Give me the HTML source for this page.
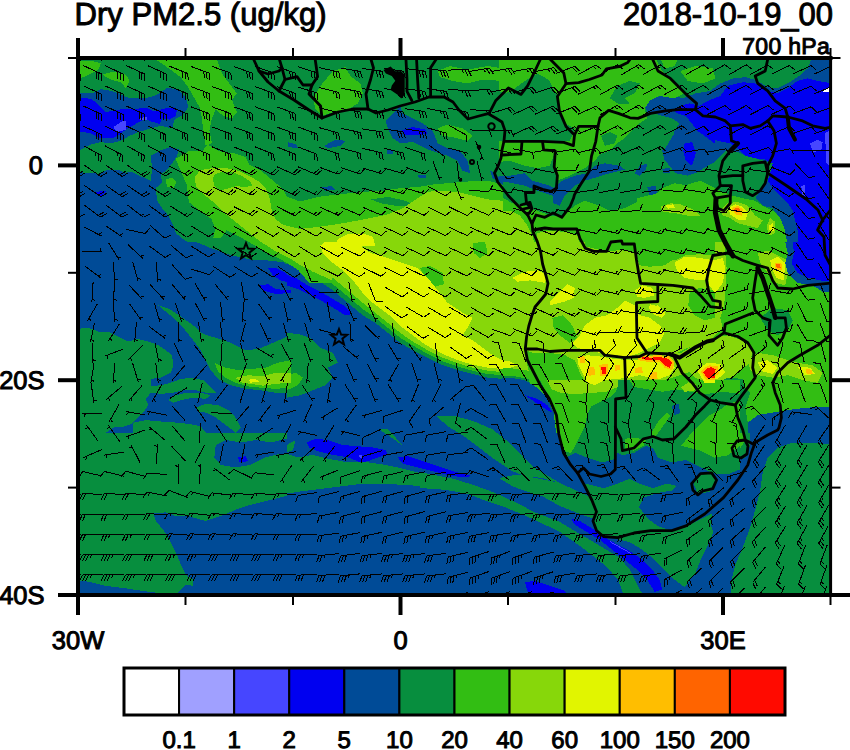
<!DOCTYPE html>
<html lang="en"><head><meta charset="utf-8"><title>Dry PM2.5 (ug/kg) 700 hPa 2018-10-19_00</title>
<style>html,body{margin:0;padding:0;background:#fff;}svg{display:block;}</style></head>
<body>
<svg width="850" height="750" viewBox="0 0 850 750">
<defs><clipPath id="mapclip"><rect x="78" y="58" width="752.5" height="537"/></clipPath></defs>
<rect width="850" height="750" fill="#fff"/>
<g clip-path="url(#mapclip)" shape-rendering="crispEdges">
<rect x="78" y="58" width="752.5" height="537" fill="#078e3e"/>
<polygon fill="#004b97" points="76.0,93.4 92.2,93.4 100.9,89.2 110.9,90.9 118.4,93.4 128.4,97.9 140.9,98.4 150.8,97.2 159.6,93.4 167.0,87.9 177.0,89.2 185.8,97.2 188.2,107.1 183.3,114.6 174.5,119.6 172.0,128.3 160.8,125.8 150.8,128.3 138.4,132.1 129.6,135.8 120.9,140.8 110.9,143.3 100.9,142.1 91.0,144.6 76.0,152.0"/>
<polygon fill="#004b97" points="76.0,172.0 98.4,173.7 108.4,169.5 118.4,169.5 124.6,172.7 132.1,172.0 139.6,175.7 150.8,180.7 152.1,168.2 150.8,155.8 159.6,150.8 170.8,147.0 178.8,149.5 177.0,155.8 172.0,163.3 167.0,169.5 160.8,174.5 162.1,182.0 155.8,188.2 157.1,200.7 162.1,208.2 168.3,215.6 173.3,225.6 175.8,233.1 183.3,239.3 193.2,245.6 76.0,245.6"/>
<polygon fill="#004b97" points="385.3,120.9 392.8,113.4 400.2,105.9 402.7,113.4 412.7,118.4 422.7,123.3 432.7,130.8 437.7,143.3 447.6,148.3 460.1,150.8 467.6,160.8 470.1,173.2 462.6,170.7 457.6,160.8 447.6,155.8 435.2,152.0 425.2,148.3 412.7,142.1 400.2,143.3 392.8,138.3 387.8,128.3"/>
<polygon fill="#004b97" points="324.2,145.8 335.4,139.6 345.4,140.8 340.4,145.8 327.9,148.3"/>
<polygon fill="#004b97" points="288.0,142.1 296.7,144.6 298.0,148.3 288.0,147.0"/>
<polygon fill="#004b97" points="321.7,187.0 331.7,186.2 335.4,189.4 325.4,190.7"/>
<polygon fill="#004b97" points="386.5,150.3 392.3,149.5 392.8,153.8 387.8,154.5"/>
<polygon fill="#004b97" points="417.7,175.2 426.4,174.5 426.4,177.7 419.0,178.2"/>
<polygon fill="#004b97" points="490.0,170.7 495.0,173.2 502.5,180.7 502.5,184.5 492.5,178.2"/>
<polygon fill="#004b97" points="644.7,105.9 654.7,102.1 669.6,100.9 679.6,102.1 689.6,98.9 699.6,102.9 714.5,103.4 714.5,155.8 699.6,165.8 689.6,173.2 679.6,173.2 672.1,165.8 664.6,160.8 662.1,150.8 672.1,143.3 674.6,130.8 679.6,123.3 672.1,118.4 662.1,115.9 654.7,113.4 647.2,110.9"/>
<polygon fill="#004b97" points="498.8,175.7 510.0,175.7 524.9,173.2 532.4,180.7 549.9,185.7 557.4,190.7 552.4,195.7 537.4,190.7 524.9,185.7 512.5,183.2 498.8,180.7"/>
<polygon fill="#004b97" points="553.6,188.2 562.4,180.7 574.8,175.7 587.3,173.2 594.8,165.8 604.8,163.3 619.7,165.8 624.7,169.5 609.8,173.2 597.3,177.0 584.8,180.7 574.8,185.7 564.9,195.7 559.9,205.7 553.6,203.2 552.4,195.7"/>
<polygon fill="#004b97" points="634.7,173.2 639.7,165.8 647.2,163.3 645.9,169.5 639.7,175.7"/>
<polygon fill="#004b97" points="662.1,168.7 669.6,168.2 670.1,172.7 663.4,173.2"/>
<polygon fill="#004b97" points="674.6,168.7 682.1,168.2 682.1,172.7 675.9,173.2"/>
<polygon fill="#004b97" points="647.2,187.0 655.9,185.7 657.1,194.4 649.7,195.7"/>
<polygon fill="#004b97" points="645.5,104.6 653.0,98.4 667.9,93.4 682.9,98.4 695.4,93.4 710.3,90.9 720.3,83.4 732.8,78.4 745.3,77.2 755.2,79.7 767.7,87.2 777.7,88.4 787.7,83.4 797.6,77.2 807.6,68.5 812.6,56.0 832.6,56.0 832.6,245.6 787.7,245.6 785.2,230.6 780.2,218.1 772.7,208.2 762.7,205.7 755.2,198.2 760.2,190.7 767.7,180.7 772.7,163.3 755.2,158.3 745.3,155.8 737.8,152.0 725.3,150.8 720.3,155.8 712.8,163.3 707.8,165.8 697.9,172.0 687.9,175.7 675.4,173.2 665.4,160.8 665.4,148.3 672.9,135.8 682.9,128.3 675.4,118.4 662.9,113.4 648.0,113.4"/>
<polygon fill="#004b97" points="74.8,241.8 195.7,241.8 210.7,248.0 225.7,253.5 240.6,257.5 252.9,260.0 267.8,260.5 283.0,262.2 290.5,266.7 290.5,432.6 74.8,432.6"/>
<polygon fill="#004b97" points="286.8,263.7 288.0,264.2 303.0,270.4 317.9,280.4 332.9,290.4 347.9,302.9 362.8,315.3 375.3,322.8 387.8,332.8 400.2,342.8 412.7,350.3 427.7,357.7 442.7,365.2 457.6,370.2 472.6,374.0 487.6,377.7 502.5,378.9 502.5,432.6 286.8,432.6"/>
<polygon fill="#004b97" points="215.7,445.0 225.7,440.0 240.6,442.5 255.6,440.0 270.6,442.5 290.5,437.5 290.5,453.7 280.5,453.7 265.6,457.4 250.6,464.9 235.6,467.4 220.7,464.9 214.4,457.4"/>
<polygon fill="#004b97" points="153.3,513.6 165.8,512.3 175.8,516.1 188.2,516.1 205.7,521.0 220.7,516.1 235.6,509.8 250.6,504.8 265.6,501.1 280.5,497.3 290.5,494.9 290.5,599.6 178.3,599.6 178.3,592.1 185.8,584.7 193.2,585.9 193.2,579.7 185.8,574.7 180.8,564.7 175.8,552.2 170.8,542.2 163.3,529.8 155.8,521.0"/>
<polygon fill="#004b97" points="74.8,579.7 91.0,582.2 105.9,585.9 125.9,588.4 150.8,592.1 165.8,593.4 165.8,599.6 74.8,599.6"/>
<polygon fill="#004b97" points="286.8,428.8 502.5,428.8 502.5,599.6 286.8,599.6"/>
<polygon fill="#004b97" points="498.8,428.8 714.5,428.8 714.5,599.6 498.8,599.6"/>
<polygon fill="#004b97" points="700.4,428.8 832.6,428.8 832.6,599.6 700.4,599.6"/>
<polygon fill="#0000f0" points="76.0,97.2 91.0,98.9 97.2,103.4 105.9,112.1 118.4,109.6 133.4,108.9 147.1,107.9 153.3,111.4 163.3,108.9 173.3,107.1 177.0,109.6 175.8,115.9 169.5,119.6 162.1,118.4 159.6,123.8 150.8,121.4 144.6,118.9 135.9,123.8 127.1,128.3 120.9,133.8 113.4,137.6 100.9,138.3 91.0,133.3 76.0,130.8"/>
<polygon fill="#0000f0" points="94.7,191.9 107.2,190.7 100.9,196.9"/>
<polygon fill="#0000f0" points="401.5,130.8 412.7,127.1 425.2,129.6 427.7,133.3 417.7,135.3 405.2,134.6"/>
<polygon fill="#0000f0" points="679.6,105.9 689.6,103.4 699.6,105.9 714.5,109.6 714.5,143.3 704.5,135.8 697.1,130.8 692.1,120.9 684.6,115.9 674.6,112.1"/>
<polygon fill="#0000f0" points="684.6,143.3 692.1,142.1 695.8,153.3 692.1,165.8 685.8,160.8 683.3,150.8"/>
<polygon fill="#0000f0" points="687.9,118.4 695.4,108.4 707.8,100.9 720.3,95.9 727.8,85.9 742.8,82.2 755.2,83.4 767.7,90.9 777.7,93.4 787.7,88.4 797.6,80.9 807.6,78.4 817.6,80.9 832.6,83.4 832.6,245.6 797.6,245.6 797.6,230.6 795.1,220.6 792.7,210.7 787.7,203.2 780.2,195.7 772.7,188.2 767.7,180.7 770.2,173.2 772.7,163.3 765.2,159.5 755.2,158.3 745.3,155.8 737.8,148.3 730.3,143.3 717.8,140.8 705.3,135.8 695.4,128.3"/>
<polygon fill="#0000f0" points="268.1,267.9 275.6,267.9 285.5,272.9 290.5,277.9 290.5,282.9 280.5,280.4 273.1,275.4"/>
<polygon fill="#0000f0" points="259.3,285.4 268.1,284.2 275.6,289.1 290.5,290.4 290.5,292.9 275.6,294.1 263.1,290.4"/>
<polygon fill="#0000f0" points="286.8,274.9 295.5,277.9 308.0,285.4 320.4,291.6 332.9,299.1 345.4,306.6 352.9,314.1 345.4,315.3 335.4,309.1 322.9,301.6 310.4,295.4 298.0,289.1 286.8,285.4"/>
<polygon fill="#0000f0" points="238.1,457.4 245.6,456.2 248.1,461.2 239.4,462.4"/>
<polygon fill="#4646ff" points="113.4,127.1 123.4,120.4 125.9,121.4 125.9,129.6 117.2,132.1"/>
<polygon fill="#4646ff" points="139.6,118.4 147.1,116.6 147.1,119.6 140.4,120.4"/>
<polygon fill="#4646ff" points="810.1,143.3 817.6,139.6 822.6,142.1 821.3,150.8 812.6,152.0"/>
<polygon fill="#4646ff" points="825.1,133.3 828.8,130.8 830.6,165.8 826.3,163.3"/>
<polygon fill="#4646ff" points="801.4,185.7 804.6,185.2 805.1,195.7 801.9,195.2"/>
<polygon fill="#ffffff" points="822.6,88.9 828.8,88.4 829.1,92.4 823.1,92.2"/>
<polygon fill="#078e3e" points="74.8,329.1 88.5,327.8 98.4,331.6 108.4,331.6 118.4,336.5 128.4,341.5 138.4,339.0 148.3,341.5 158.3,345.3 165.8,350.3 172.0,355.2 173.3,365.2 170.8,372.7 160.8,377.7 150.8,378.9 150.8,386.4 158.3,387.7 150.8,392.7 145.8,398.9 148.3,405.1 143.3,412.6 138.4,417.6 133.4,422.6 125.9,426.3 113.4,427.6 105.9,432.6 74.8,432.6"/>
<polygon fill="#078e3e" points="158.3,305.4 168.3,308.4 180.8,316.6 193.2,325.3 203.2,334.0 215.7,337.8 230.7,342.8 245.6,350.3 258.1,349.0 273.1,342.8 290.5,335.3 290.5,392.7 275.6,392.7 260.6,390.2 245.6,388.9 230.7,385.2 218.2,378.9 210.7,370.2 205.7,360.2 200.7,350.3 193.2,340.3 183.3,327.8 173.3,317.8"/>
<polygon fill="#078e3e" points="150.8,386.4 160.8,385.2 170.8,382.7 180.8,378.9 193.2,377.7 203.2,380.2 210.7,387.7 215.7,392.7 205.7,392.7 195.7,390.2 183.3,390.2 173.3,392.7 160.8,393.9 150.8,392.7"/>
<polygon fill="#078e3e" points="168.3,400.1 175.8,395.2 185.8,392.7 200.7,392.7 210.7,395.2 205.7,398.9 193.2,397.7 180.8,400.1 173.3,402.6"/>
<polygon fill="#078e3e" points="195.7,407.6 205.7,403.9 218.2,405.1 228.2,410.1 235.6,417.6 240.6,427.6 235.6,432.6 225.7,425.1 215.7,417.6 205.7,412.6 198.2,411.4"/>
<polygon fill="#078e3e" points="133.4,422.6 145.8,420.1 158.3,421.3 175.8,422.6 188.2,423.8 200.7,426.3 205.7,432.6 133.4,432.6"/>
<polygon fill="#078e3e" points="286.8,332.8 298.0,334.0 310.4,337.8 320.4,347.8 332.9,352.8 337.9,362.7 327.9,367.7 332.9,377.7 325.4,385.2 312.9,390.2 300.5,395.2 286.8,397.7"/>
<polygon fill="#078e3e" points="286.8,453.7 298.0,457.4 312.9,454.9 327.9,458.7 347.9,462.4 367.8,462.4 385.3,464.9 397.8,467.4 412.7,471.2 422.7,473.7 422.7,486.1 402.7,484.9 382.8,483.6 362.8,483.6 342.9,486.1 322.9,488.6 303.0,491.1 286.8,493.6"/>
<polygon fill="#078e3e" points="377.8,428.8 387.8,435.0 400.2,443.7 405.2,447.5 397.8,440.0 387.8,428.8"/>
<polygon fill="#078e3e" points="286.8,445.0 295.5,440.0 293.0,450.0 286.8,452.4"/>
<polygon fill="#078e3e" points="609.8,537.3 629.7,532.3 649.7,528.5 674.6,529.3 694.6,522.3 712.0,513.6 710.8,524.8 713.3,532.3 708.3,544.7 700.8,559.7 695.8,572.2 688.3,582.2 684.6,587.1 674.6,579.7 664.6,569.7 654.7,559.7 642.2,549.7 629.7,542.2"/>
<polygon fill="#078e3e" points="762.7,599.6 730.3,599.6 731.5,579.7 735.3,564.7 742.8,547.2 750.2,527.3 755.2,509.8 760.2,489.9 762.7,472.4 767.7,457.4 777.7,447.5 792.7,442.5 812.6,442.5 832.6,445.0 832.6,599.6"/>
<polygon fill="#078e3e" points="658.0,454.9 670.4,450.0 687.9,445.0 700.4,435.0 705.3,428.8 750.2,428.8 750.2,445.0 745.3,457.4 732.8,462.4 717.8,459.9 702.9,464.9 687.9,462.4 672.9,459.9"/>
<polygon fill="#078e3e" points="436,416 455,416 473,421 492,429 506,440 519,453 535,468 548,476 560,483 542,478 525,476 512,471 492.5,458 481,449 465,437 449,427"/>
<polygon fill="#078e3e" points="499,478 512,475.5 525,475 535,478 560,483 575,490 590,497 597,503 597,520 580,514 560,506 542,496 525,491 512,486"/>
<polygon fill="#078e3e" points="420,472 436.5,475.4 453,478.7 469.4,483.7 486,489.4 502,496 519,504 535,512.5 560,522 580,534 607,550 620,558 630,570 640,590 645,598 625,598 618,580 606,566 580,546 560,532 535,520 519,513 502,506 486,501 469.4,494.4 453,491 440,489.4 420,488"/>
<polygon fill="#0000f0" points="306.7,442.5 315.4,438.7 327.9,440.0 342.9,445.0 357.8,446.2 372.8,447.5 385.3,450.0 387.8,454.9 377.8,457.4 367.8,461.2 360.3,462.4 347.9,457.4 332.9,454.9 317.9,451.2 309.2,447.5"/>
<polygon fill="#0000f0" points="397.8,457.4 407.7,456.2 422.7,461.2 437.7,466.2 452.6,471.2 472.6,476.1 462.6,477.4 447.6,474.9 432.7,471.2 417.7,467.4 402.7,463.7"/>
<polygon fill="#0000f0" points="571.1,518.6 579.8,521.0 592.3,528.5 604.8,537.3 617.2,544.7 629.7,551.0 642.2,559.7 652.2,569.7 659.6,579.7 662.1,589.6 654.7,592.1 647.2,579.7 637.2,569.7 624.7,559.7 612.2,549.7 599.8,539.8 587.3,532.3 574.8,524.8"/>
<polygon fill="#0000f0" points="524.9,582.2 534.9,580.9 549.9,585.9 564.9,590.9 572.3,599.6 529.9,599.6"/>
<polygon fill="#4646ff" points="359.3,455.4 362.3,454.9 362.8,457.9 359.8,458.4"/>
<polygon fill="#4646ff" points="609.8,541.0 629.7,552.2 631.0,554.0 611.0,542.7"/>
<polygon fill="#32be13" points="76.0,61.5 91.0,60.5 100.9,63.5 98.4,69.7 91.0,73.5 83.5,77.2 76.0,78.4"/>
<polygon fill="#32be13" points="102.2,74.7 113.4,71.5 125.9,74.7 129.6,80.9 125.9,88.4 120.9,82.2 110.9,79.7"/>
<polygon fill="#32be13" points="150.8,56.0 215.7,56.0 221.9,73.5 229.4,83.4 236.9,93.4 231.9,99.7 236.9,112.1 231.9,118.4 223.2,115.9 215.7,109.6 211.9,118.4 209.4,130.8 211.9,143.3 205.7,145.8 203.2,130.8 202.0,118.4 199.5,107.1 194.5,98.4 188.2,87.2 180.8,77.2 167.0,67.2"/>
<polygon fill="#32be13" points="165.8,179.5 172.0,177.5 176.3,182.0 173.3,188.2 167.0,187.0"/>
<polygon fill="#32be13" points="202.0,151.3 207.6,144.7 218.9,151.3 234.0,153.2 245.3,156.9 249.1,164.5 260.4,170.1 271.6,179.5 282.9,188.9 286.7,196.5 301.8,202.1 331.9,202.1 331.9,283.1 309.3,283.1 298.0,269.9 282.9,260.5 267.9,252.9 254.7,245.4 241.5,237.9 226.5,230.4 220.8,237.9 213.3,237.9 215.2,228.5 211.4,219.1 198.2,209.6 188.8,202.1 186.9,185.2 181.3,172.0 175.6,158.8 188.8,151.3"/>
<polygon fill="#32be13" points="320.4,85.9 332.9,71.0 345.4,67.2 350.4,76.0 360.3,83.4 362.8,93.4 357.8,103.4 347.9,109.6 332.9,112.1 321.7,115.9 315.4,108.4 312.9,98.4"/>
<polygon fill="#32be13" points="437.7,71.0 450.1,66.0 467.6,69.7 487.6,66.0 502.5,68.5 502.5,80.9 482.6,79.7 467.6,83.4 452.6,80.9 440.2,77.2"/>
<polygon fill="#32be13" points="437.7,128.3 447.6,124.6 462.6,128.3 472.6,135.8 467.6,140.8 452.6,137.1 442.7,135.8"/>
<polygon fill="#32be13" points="285.5,203.2 303.0,200.7 317.9,196.9 337.9,194.4 362.8,191.9 382.8,190.7 400.2,188.2 417.7,187.0 432.7,184.5 447.6,183.2 462.6,182.0 477.6,180.7 487.6,180.7 502.5,184.5 502.5,245.6 285.5,245.6"/>
<polygon fill="#32be13" points="498.8,56.0 574.8,56.0 582.3,71.0 574.8,80.9 564.9,83.4 557.4,93.4 553.6,89.7 548.6,79.7 537.4,73.5 524.9,80.9 515.0,88.4 505.0,93.4 498.8,90.9"/>
<polygon fill="#32be13" points="557.4,93.4 564.9,83.4 574.8,80.9 582.3,71.0 574.8,56.0 654.7,56.0 662.1,71.0 674.6,80.9 684.6,93.4 674.6,98.4 659.6,95.9 649.7,100.9 644.7,108.4 647.2,118.4 639.7,123.3 632.2,130.8 624.7,138.3 617.2,143.3 609.8,150.8 599.8,154.5 594.8,160.8 584.8,168.2 569.8,175.7 557.4,180.7 553.6,168.2 557.4,150.8 553.6,155.8 549.9,165.8 537.4,168.2 524.9,165.8 510.0,160.8 498.8,162.0 498.8,140.8 524.9,140.8 569.8,140.8 574.8,128.3 564.9,123.3 559.9,110.9"/>
<polygon fill="#32be13" points="680.3,71.0 695.3,66.0 712.8,68.5 715.3,78.4 702.8,83.4 687.8,80.9"/>
<polygon fill="#32be13" points="659.6,56.0 679.6,56.0 674.6,66.0 664.6,68.5"/>
<polygon fill="#32be13" points="498.8,195.7 512.5,203.2 524.9,205.7 537.4,210.7 549.9,215.6 562.4,215.6 574.8,205.7 584.8,200.7 599.8,205.7 609.8,210.7 624.7,208.2 634.7,203.2 644.7,198.2 654.7,195.7 662.1,188.2 674.6,183.2 689.6,185.7 714.5,190.7 714.5,245.6 498.8,245.6"/>
<polygon fill="#32be13" points="636.8,198.2 653.0,194.4 670.4,189.4 687.9,184.5 700.4,180.7 710.3,185.7 720.3,190.7 732.8,195.7 742.8,198.2 755.2,200.7 762.7,205.7 772.7,210.7 780.2,218.1 785.2,230.6 787.7,245.6 636.8,245.6"/>
<polygon fill="#32be13" points="214.4,362.7 225.7,367.7 238.1,370.2 250.6,369.0 265.6,367.7 278.0,362.7 290.5,360.2 290.5,387.7 275.6,388.9 260.6,387.7 248.1,386.4 235.6,382.7 225.7,377.7 218.2,371.5"/>
<polygon fill="#32be13" points="286.8,241.8 502.5,241.8 502.5,375.2 487.6,374.0 472.6,370.7 457.6,366.5 442.7,361.5 427.7,354.0 412.7,345.3 400.2,337.8 387.8,327.8 375.3,317.8 362.8,309.1 347.9,296.6 332.9,284.2 317.9,274.2 303.0,265.4 288.0,259.2 286.8,258.7"/>
<polygon fill="#32be13" points="286.8,375.2 295.5,372.7 303.0,377.7 298.0,385.2 286.8,390.2"/>
<polygon fill="#32be13" points="584.8,241.8 714.5,241.8 714.5,254.2 679.6,256.7 664.6,266.7 649.7,267.9 639.7,266.7 634.7,253.0 619.7,251.0 607.3,253.0 586.1,248.0"/>
<polygon fill="#32be13" points="705.3,428.8 742.8,428.8 745.3,440.0 737.8,452.4 722.8,454.9 710.3,450.0 702.9,440.0"/>
<polygon fill="#078e3e" points="370.3,199.4 387.8,196.9 405.2,200.7 415.2,205.7 397.8,206.2 382.8,203.7"/>
<polygon fill="#078e3e" points="609.8,98.4 617.2,85.9 629.7,80.9 639.7,83.4 634.7,93.4 624.7,98.4 629.7,103.4 619.7,104.6"/>
<polygon fill="#078e3e" points="601.0,135.8 609.8,132.1 617.2,135.8 614.7,143.3 604.8,145.8"/>
<polygon fill="#87d70a" points="194.5,177.6 200.1,170.1 213.3,167.9 226.5,168.2 239.6,171.1 249.1,175.8 258.5,181.4 266.0,188.9 269.8,198.4 271.6,209.6 275.4,219.1 282.9,224.7 298.0,228.5 313.1,230.4 331.9,228.5 331.9,280.2 313.1,271.8 301.8,266.1 290.5,258.6 275.4,251.1 260.4,241.6 250.9,234.1 241.5,226.6 232.1,219.1 222.7,211.5 213.3,202.1 203.9,194.6 196.4,187.1"/>
<polygon fill="#87d70a" points="285.5,230.6 308.0,228.1 327.9,225.6 350.4,221.9 370.3,218.1 387.8,214.4 402.7,208.2 417.7,198.2 427.7,191.9 437.7,190.7 457.6,191.9 472.6,195.7 487.6,199.4 502.5,200.7 502.5,245.6 285.5,245.6"/>
<polygon fill="#87d70a" points="498.8,211.9 510.0,210.7 520.0,215.6 527.4,225.6 532.4,235.6 534.9,245.6 498.8,245.6"/>
<polygon fill="#87d70a" points="537.4,233.1 549.9,230.6 564.9,231.9 577.3,235.6 579.8,245.6 534.9,245.6"/>
<polygon fill="#87d70a" points="660.4,206.9 670.4,203.2 680.4,204.4 692.9,209.4 700.4,215.6 687.9,215.6 675.4,213.1 662.9,211.9"/>
<polygon fill="#87d70a" points="720.3,210.7 727.8,203.2 737.8,201.9 747.8,205.7 755.2,215.6 762.7,220.6 757.7,228.1 747.8,225.6 737.8,223.1 730.3,218.1 722.8,215.6"/>
<polygon fill="#87d70a" points="766.5,225.6 770.2,218.1 775.2,221.9 775.2,233.1 769.0,235.6"/>
<polygon fill="#87d70a" points="235.6,377.7 248.1,375.2 263.1,376.4 275.6,372.7 290.5,372.7 290.5,382.7 275.6,383.9 263.1,385.7 250.6,383.9 240.6,382.2"/>
<polygon fill="#87d70a" points="286.8,241.8 502.5,241.8 502.5,372.2 487.6,370.7 472.6,367.7 457.6,363.2 442.7,357.7 427.7,350.3 412.7,341.5 400.2,332.8 387.8,322.8 375.3,312.8 362.8,302.9 347.9,290.4 332.9,277.9 317.9,267.9 303.0,259.2 288.0,253.0 286.8,252.5"/>
<polygon fill="#87d70a" points="498.8,241.8 584.8,241.8 586.1,246.7 607.3,251.7 619.7,250.0 634.7,252.0 639.7,265.4 649.7,266.7 664.6,265.4 679.6,255.5 714.5,253.0 714.5,432.6 498.8,432.6"/>
<polygon fill="#87d70a" points="710.3,241.8 727.8,241.8 727.8,355.2 710.3,355.2"/>
<polygon fill="#32be13" points="214.2,174.8 220.8,172.0 232.1,172.0 241.5,175.8 249.1,180.5 252.8,185.2 245.3,187.1 235.9,186.1 226.5,188.9 218.9,190.8 214.2,185.2 212.9,179.5"/>
<polygon fill="#32be13" points="420.2,267.9 430.2,265.9 442.7,272.9 443.9,284.2 435.2,286.7 426.4,280.4"/>
<polygon fill="#32be13" points="472.6,243.0 485.1,241.8 487.6,253.0 480.1,258.0 473.8,253.0"/>
<polygon fill="#32be13" points="639.7,241.8 714.5,241.8 714.5,255.5 699.6,254.2 684.6,255.5 674.6,260.5 662.1,258.0 649.7,253.0"/>
<polygon fill="#32be13" points="689.6,292.9 699.6,287.9 714.5,290.4 714.5,317.8 704.5,320.3 694.6,315.3 688.3,305.4"/>
<polygon fill="#32be13" points="552.4,317.8 562.4,315.3 572.3,325.3 577.3,337.8 569.8,342.8 559.9,335.3 553.6,327.8"/>
<polygon fill="#32be13" points="498.8,365.7 515.0,369.0 528.7,370.7 526.2,360.2 524.9,350.3 532.4,352.8 549.9,352.8 564.9,355.2 574.8,360.2 579.8,372.7 587.3,385.2 599.8,390.2 617.2,390.2 629.7,385.2 644.7,382.7 659.6,381.4 674.6,382.7 684.6,377.7 694.6,372.7 699.6,362.7 704.5,382.7 714.5,385.2 714.5,432.6 498.8,432.6"/>
<polygon fill="#32be13" points="725.3,241.8 832.6,241.8 832.6,432.6 636.8,432.6 636.8,382.7 653.0,382.7 672.9,377.7 687.9,372.7 697.9,362.7 687.9,355.2 677.9,352.8 687.9,347.8 702.9,342.8 712.8,337.8 722.8,327.8 720.3,317.8 724.1,305.4 725.3,292.9 726.6,267.9 725.3,253.0"/>
<polygon fill="#87d70a" points="557.4,392.7 567.3,385.2 579.8,382.7 586.1,390.2 584.8,405.1 583.6,417.6 584.8,432.6 559.9,432.6 558.6,412.6"/>
<polygon fill="#87d70a" points="677.9,355.2 692.9,345.3 712.8,337.8 727.8,335.3 742.8,340.3 752.7,350.3 750.2,362.7 737.8,372.7 722.8,382.7 707.8,382.7 695.4,377.7 685.4,367.7"/>
<polygon fill="#87d70a" points="757.7,253.0 767.7,250.5 777.7,255.5 787.7,260.5 787.7,272.9 785.2,285.4 775.2,282.9 767.7,272.9 760.2,263.0"/>
<polygon fill="#87d70a" points="747.8,360.2 757.7,352.8 772.7,355.2 787.7,360.2 797.6,362.7 812.6,365.2 822.6,372.7 817.6,382.7 802.6,380.2 787.7,375.2 772.7,377.7 757.7,375.2 750.2,370.2"/>
<polygon fill="#078e3e" points="498.8,375.2 515.0,376.4 528.7,378.9 529.9,383.2 515.0,380.2 498.8,379.4"/>
<polygon fill="#078e3e" points="589.8,405.1 599.8,397.7 614.7,392.7 629.7,390.2 644.7,385.2 659.6,386.4 674.6,390.2 689.6,392.7 699.6,397.7 714.5,392.7 714.5,432.6 584.8,432.6"/>
<polygon fill="#078e3e" points="636.8,387.7 653.0,385.2 667.9,387.7 682.9,382.7 697.9,387.7 712.8,390.2 727.8,387.7 742.8,385.2 750.2,392.7 745.3,407.6 747.8,422.6 750.2,432.6 636.8,432.6"/>
<polygon fill="#078e3e" points="760.2,317.8 772.7,307.9 787.7,310.3 792.7,320.3 787.7,330.3 777.7,335.3 767.7,330.3"/>
<polygon fill="#078e3e" points="719.1,381.4 727.8,377.7 742.8,378.9 744.0,387.7 732.8,391.4 721.6,390.2"/>
<polygon fill="#32be13" points="635.9,398.9 647.2,392.7 662.1,393.9 669.6,400.1 659.6,407.6 644.7,406.4"/>
<polygon fill="#004b97" points="672.1,410.1 677.1,405.1 684.6,412.6 687.1,415.1 679.6,417.6"/>
<polygon fill="#004b97" points="498.8,378.9 510.0,377.7 524.9,380.2 537.4,387.7 547.4,397.7 553.6,412.6 556.1,432.6 498.8,432.6"/>
<polygon fill="#32be13" points="702.9,402.6 712.8,395.2 727.8,392.7 737.8,397.7 735.3,410.1 722.8,417.6 707.8,415.1"/>
<polygon fill="#004b97" points="747.8,422.6 757.7,415.1 772.7,412.6 787.7,410.1 807.6,407.6 832.6,406.4 832.6,432.6 747.8,432.6"/>
<polygon fill="#004b97" points="670.4,408.9 675.4,405.1 680.9,407.6 679.2,415.1 672.9,415.6"/>
<polygon fill="#004b97" points="785.2,241.8 787.7,253.0 785.2,263.0 787.7,272.9 797.6,282.9 812.6,285.4 822.6,291.6 832.6,292.9 832.6,241.8"/>
<polygon fill="#0000f0" points="524.9,395.2 537.4,398.9 547.4,405.1 552.4,412.6 547.4,410.1 537.4,403.9"/>
<polygon fill="#0000f0" points="792.7,241.8 793.9,253.0 791.4,263.0 797.6,272.9 807.6,277.9 820.1,280.4 832.6,281.7 832.6,241.8"/>
<polygon fill="#078e3e" points="540.0,384.7 549.4,398.8 556.5,415.3 558.8,434.1 563.5,452.9 570.6,464.7 577.6,472.9 584.7,485.9 591.8,500.0 596.5,511.8 592.9,521.2 596.5,530.6 603.5,536.5 617.6,537.6 634.1,532.9 650.6,530.6 671.8,530.6 685.9,525.9 704.7,514.1 723.5,497.6 740.0,474.1 740.0,380.0 540.0,380.0"/>
<polygon fill="#32be13" points="540.0,380.0 610.6,380.0 617.6,389.4 610.6,396.5 601.2,401.2 591.8,405.9 587.1,415.3 584.7,427.1 580.0,436.5 575.3,445.9 570.6,452.9 563.5,450.6 560.0,434.1 556.5,415.3 550.6,398.8 544.7,389.4"/>
<polygon fill="#32be13" points="629.4,380.0 740.0,380.0 740.0,394.1 723.5,391.8 704.7,394.1 690.6,391.8 676.5,389.4 662.4,391.8 648.2,389.4 634.1,387.1"/>
<polygon fill="#32be13" points="681.2,445.9 690.6,434.1 700.0,424.7 709.4,415.3 718.8,410.6 728.2,403.5 740.0,401.2 740.0,445.9 728.2,455.3 714.1,457.6 700.0,450.6 690.6,448.2"/>
<polygon fill="#32be13" points="650.6,434.1 657.6,422.4 667.1,412.9 670.6,415.3 662.4,427.1 655.3,436.5"/>
<polygon fill="#32be13" points="624.7,438.8 634.1,437.6 645.9,440.0 643.5,445.9 634.1,450.6 624.7,449.4"/>
<polygon fill="#004b97" points="565.9,457.6 575.3,452.9 587.1,457.6 601.2,462.4 612.9,460.0 617.6,452.9 622.4,455.3 634.1,452.9 645.9,445.9 652.9,448.2 657.6,457.6 671.8,462.4 685.9,460.0 695.3,464.7 709.4,471.8 718.8,474.1 728.2,474.1 740.0,469.4 740.0,476.5 723.5,497.6 704.7,514.1 685.9,525.9 671.8,530.6 657.6,525.9 648.2,518.8 638.8,507.1 643.5,497.6 657.6,492.9 671.8,490.6 676.5,485.9 667.1,483.5 652.9,488.2 638.8,483.5 629.4,478.8 617.6,483.5 603.5,488.2 594.1,485.9 584.7,483.5 577.6,472.9 570.6,464.7"/>
<polygon fill="#004b97" points="671.8,405.9 678.8,403.5 680.0,412.9 674.1,415.3"/>
<polygon fill="#87d70a" points="547.1,380.0 617.6,380.0 617.6,387.1 605.9,391.8 591.8,392.9 575.3,394.1 561.2,392.9 551.8,389.4"/>
<polygon fill="#87d70a" points="681.2,387.1 688.2,382.4 696.5,384.7 694.1,390.6 684.7,391.8"/>
<polygon fill="#078e3e" points="692.9,481.2 702.4,472.9 714.1,474.1 716.5,483.5 709.4,491.8 697.6,494.1"/>
<polygon fill="#e1f500" points="337.9,239.3 347.9,234.3 362.8,233.6 372.8,236.8 375.3,245.6 335.4,245.6"/>
<polygon fill="#e1f500" points="665.4,205.7 672.9,204.4 675.4,207.7 667.9,208.7"/>
<polygon fill="#e1f500" points="727.8,208.2 735.3,204.4 742.8,206.9 747.8,213.1 745.3,220.6 737.8,219.4 730.3,214.4"/>
<polygon fill="#e1f500" points="769.0,225.6 772.7,223.1 773.9,230.6 769.7,231.9"/>
<polygon fill="#e1f500" points="248.1,379.7 255.6,378.9 259.3,381.4 250.6,382.7"/>
<polygon fill="#e1f500" points="322.9,253.0 320.4,245.5 325.4,241.8 357.8,241.8 362.8,248.0 370.3,253.0 387.8,258.0 402.7,263.0 417.7,267.9 427.7,277.9 437.7,290.4 447.6,302.9 462.6,312.8 472.6,317.8 467.6,327.8 462.6,335.3 472.6,340.3 482.6,347.8 492.5,355.2 502.5,360.2 502.5,369.0 487.6,367.7 472.6,364.7 457.6,360.2 442.7,354.0 432.7,349.0 422.7,342.8 412.7,335.3 402.7,327.8 392.8,317.8 382.8,310.3 372.8,302.9 362.8,292.9 352.9,280.4 342.9,270.4 332.9,263.0"/>
<polygon fill="#e1f500" points="498.8,360.2 510.0,361.5 517.5,365.2 510.0,367.7 498.8,369.0"/>
<polygon fill="#e1f500" points="512.5,277.9 524.9,271.7 537.4,270.4 547.4,275.4 544.9,282.9 529.9,280.4 517.5,281.7"/>
<polygon fill="#e1f500" points="561.1,290.4 567.3,284.2 574.8,287.9 573.6,297.9 564.9,301.6 549.9,305.4 549.9,301.6"/>
<polygon fill="#e1f500" points="572.3,342.8 579.8,335.3 584.8,325.3 594.8,317.8 607.3,315.3 617.2,307.9 624.7,300.4 634.7,305.4 639.7,315.3 649.7,317.8 659.6,325.3 664.6,332.8 659.6,342.8 649.7,347.8 639.7,352.8 629.7,356.5 614.7,355.2 599.8,352.8 587.3,350.3 577.3,347.8"/>
<polygon fill="#e1f500" points="634.7,290.4 642.2,285.4 652.2,287.9 654.7,295.4 644.7,297.9 637.2,296.6"/>
<polygon fill="#e1f500" points="649.7,304.1 659.6,306.6 665.9,314.1 659.6,315.3 652.2,310.3"/>
<polygon fill="#e1f500" points="577.3,357.7 587.3,355.2 599.8,356.5 614.7,359.0 629.7,360.2 644.7,359.0 659.6,357.7 672.1,360.2 674.6,367.7 669.6,375.2 659.6,378.9 649.7,377.7 639.7,375.2 629.7,377.7 617.2,378.9 604.8,380.2 594.8,385.2 587.3,382.7 582.3,372.7 578.6,365.2"/>
<polygon fill="#e1f500" points="674.6,263.0 684.6,256.7 699.6,258.0 714.5,260.5 714.5,277.9 699.6,280.4 684.6,277.9 677.1,270.4"/>
<polygon fill="#e1f500" points="697.1,370.2 707.0,362.7 714.5,362.7 714.5,382.7 704.5,382.7"/>
<polygon fill="#e1f500" points="709.1,270.4 712.8,260.5 722.8,258.0 725.3,267.9 722.8,282.9 715.3,292.9 709.1,285.4"/>
<polygon fill="#e1f500" points="675.4,261.7 687.9,256.7 700.4,258.0 707.8,265.4 697.9,270.4 685.4,272.9 677.9,269.2"/>
<polygon fill="#e1f500" points="770.2,260.5 777.7,256.7 785.2,263.0 783.9,280.4 776.4,277.9 771.4,267.9"/>
<polygon fill="#e1f500" points="757.7,362.7 767.7,360.2 777.7,367.7 772.7,374.0 762.7,371.5"/>
<polygon fill="#e1f500" points="797.6,366.5 810.1,367.7 815.1,374.0 805.1,375.2"/>
<polygon fill="#e1f500" points="697.9,370.2 707.8,362.7 720.3,364.0 725.3,372.7 717.8,378.9 705.3,380.2"/>
<polygon fill="#e1f500" points="636.8,325.3 648.0,320.3 660.4,325.3 662.9,335.3 653.0,342.8 643.0,340.3 636.8,337.8"/>
<polygon fill="#e1f500" points="648.0,306.6 658.0,305.4 665.4,314.1 661.7,317.8 653.0,314.1"/>
<polygon fill="#ffbe00" points="731.5,208.2 737.8,205.7 742.8,209.4 741.5,215.6 735.3,214.4"/>
<polygon fill="#ffbe00" points="579.3,356.5 584.3,355.7 585.3,362.7 580.3,363.2"/>
<polygon fill="#ffbe00" points="587.3,367.7 594.3,367.2 595.3,375.2 588.6,375.7"/>
<polygon fill="#ffbe00" points="599.3,364.7 607.8,364.2 608.3,375.7 600.3,376.2"/>
<polygon fill="#ffbe00" points="614.7,365.2 619.7,364.7 620.2,370.2 615.2,370.7"/>
<polygon fill="#ffbe00" points="634.7,367.7 642.2,367.2 642.7,372.7 635.2,373.2"/>
<polygon fill="#ffbe00" points="649.7,372.7 657.1,372.2 657.6,378.9 650.2,379.2"/>
<polygon fill="#ffbe00" points="637.2,354.7 649.7,355.7 659.6,355.2 669.6,356.5 674.6,362.7 672.1,370.2 664.6,367.7 659.6,362.2 649.7,362.2 638.4,360.2"/>
<polygon fill="#ffbe00" points="700.8,371.5 707.5,365.7 714.5,366.5 714.5,379.7 705.8,379.7"/>
<polygon fill="#ffbe00" points="774.7,263.0 781.4,262.5 782.2,269.9 775.7,269.9"/>
<polygon fill="#ffbe00" points="805.6,369.2 812.1,369.7 812.6,373.7 806.6,373.7"/>
<polygon fill="#ffbe00" points="701.6,370.7 709.1,365.2 717.8,366.5 719.1,374.0 710.3,377.7 703.4,376.4"/>
<polygon fill="#ff6400" points="734.0,208.7 739.0,207.7 740.3,211.9 735.8,212.6"/>
<polygon fill="#ff6400" points="775.9,264.2 780.2,264.0 780.7,268.4 776.7,268.4"/>
<polygon fill="#ff0a00" points="601.3,367.0 605.8,366.5 606.0,374.0 601.8,374.2"/>
<polygon fill="#ff0a00" points="642.2,356.5 649.7,357.7 659.6,357.2 667.1,358.2 672.1,362.7 669.6,367.7 664.6,365.2 659.6,360.2 649.7,360.2 642.2,359.0"/>
<polygon fill="#ff0a00" points="703.3,372.7 708.3,367.7 714.5,369.0 714.5,377.7 707.0,377.7"/>
<polygon fill="#ff0a00" points="704.1,371.5 710.3,367.0 715.8,369.0 712.8,374.7 705.8,375.7"/>
</g>
<g clip-path="url(#mapclip)" stroke="#000" stroke-width="1" fill="none" shape-rendering="crispEdges">
<path d="M81.0,595.0L61.0,595.0M61.0,595.0l-2.9,6.4M64.0,595.0l-2.9,6.4M67.0,595.0l-2.9,6.4M70.0,595.0l-1.5,3.2M102.5,595.0L82.5,595.0M82.5,595.0l-2.9,6.4M85.5,595.0l-2.9,6.4M88.5,595.0l-2.9,6.4M91.5,595.0l-1.5,3.2M124.0,595.0L104.0,595.0M104.0,595.0l-2.9,6.4M107.0,595.0l-2.9,6.4M110.0,595.0l-2.9,6.4M113.0,595.0l-1.5,3.2M145.5,595.0L125.5,595.0M125.5,595.0l-2.9,6.4M128.5,595.0l-2.9,6.4M131.5,595.0l-2.9,6.4M134.5,595.0l-1.5,3.2M167.0,595.0L147.0,595.0M147.0,595.0l-3.0,6.4M150.0,595.0l-3.0,6.4M153.0,595.0l-3.0,6.4M188.5,595.0L168.5,595.0M168.5,595.0l-3.0,6.4M171.5,595.0l-3.0,6.4M174.5,595.0l-3.0,6.4M210.0,595.0L190.0,595.0M190.0,595.0l-3.0,6.4M193.0,595.0l-3.0,6.4M196.0,595.0l-3.0,6.4M231.5,595.0L211.5,595.0M211.5,595.0l-2.9,6.4M214.5,595.0l-2.9,6.4M217.5,595.0l-2.9,6.4M253.0,595.0L233.0,595.0M233.0,595.0l-2.9,6.4M236.0,595.0l-2.9,6.4M239.0,595.0l-2.9,6.4M274.5,595.0L254.5,595.0M254.5,595.0l-2.9,6.4M257.5,595.0l-2.9,6.4M260.5,595.0l-2.9,6.4M296.0,594.9L276.0,595.1M276.0,595.1l-2.9,6.4M279.0,595.0l-2.9,6.4M282.0,595.0l-2.9,6.4M317.5,594.7L297.5,595.3M297.5,595.3l-2.7,6.5M300.5,595.2l-2.7,6.5M303.5,595.1l-2.7,6.5M339.0,594.2L319.0,595.8M319.0,595.8l-2.4,6.6M322.0,595.5l-2.4,6.6M325.0,595.3l-2.4,6.6M360.5,594.1L340.5,595.9M340.5,595.9l-2.3,6.6M343.5,595.7l-2.3,6.6M346.5,595.4l-2.3,6.6M349.5,595.1l-1.2,3.3M382.0,594.1L362.0,595.9M362.0,595.9l-2.3,6.6M365.0,595.6l-2.3,6.6M368.0,595.4l-2.3,6.6M371.0,595.1l-1.2,3.3M403.5,594.1L383.5,595.9M383.5,595.9l-2.4,6.6M386.5,595.6l-2.4,6.6M389.5,595.4l-2.4,6.6M392.5,595.1l-1.2,3.3M425.0,594.1L405.0,595.9M405.0,595.9l-2.3,6.6M408.0,595.6l-2.3,6.6M411.0,595.4l-2.3,6.6M414.0,595.1l-1.2,3.3M446.4,593.8L426.6,596.2M426.6,596.2l-2.2,6.7M429.5,595.8l-2.2,6.7M432.5,595.5l-2.2,6.7M435.5,595.1l-1.1,3.3M467.7,592.6L448.3,597.4M448.3,597.4l-1.4,6.9M451.2,596.6l-1.4,6.9M454.1,595.9l-1.4,6.9M457.0,595.2l-0.7,3.4M489.0,591.8L470.0,598.2M470.0,598.2l-0.7,7.0M472.9,597.3l-0.7,7.0M475.7,596.3l-0.7,7.0M478.6,595.3l-0.4,3.5M510.4,591.6L491.6,598.4M491.6,598.4l-0.6,7.0M494.4,597.4l-0.6,7.0M497.2,596.3l-0.6,7.0M500.1,595.3l-0.3,3.5M531.9,591.7L513.1,598.3M513.1,598.3l-0.6,7.0M515.9,597.3l-0.6,7.0M518.7,596.3l-0.6,7.0M521.6,595.3l-0.3,3.5M553.5,592.0L534.5,598.0M534.5,598.0l-0.9,7.0M537.3,597.1l-0.9,7.0M540.2,596.2l-0.9,7.0M543.0,595.3l-0.4,3.5M575.3,593.2L555.7,596.8M555.7,596.8l-1.7,6.8M558.6,596.3l-1.7,6.8M561.6,595.7l-1.7,6.8M596.9,594.0L577.1,596.0M577.1,596.0l-2.3,6.6M580.0,595.7l-2.3,6.6M583.0,595.4l-2.3,6.6M618.5,594.1L598.5,595.9M598.5,595.9l-2.3,6.6M601.5,595.6l-2.3,6.6M604.5,595.4l-2.3,6.6M640.0,594.0L620.0,596.0M620.0,596.0l-2.3,6.6M623.0,595.7l-2.3,6.6M626.0,595.4l-2.3,6.6M661.4,593.3L641.6,596.7M641.6,596.7l-1.8,6.8M644.6,596.2l-1.8,6.8M647.6,595.7l-1.8,6.8M681.7,590.2L664.3,599.8M664.3,599.8l0.5,7.0M666.9,598.4l0.5,7.0M669.5,596.9l0.3,3.5M701.8,588.2L687.2,601.8M687.2,601.8l2.2,6.7M689.4,599.7l2.2,6.7M723.1,588.0L708.9,602.0M708.9,602.0l2.4,6.6M711.0,599.9l2.4,6.6M744.5,587.9L730.5,602.1M730.5,602.1l2.5,6.6M732.6,600.0l2.5,6.6M765.2,587.2L752.8,602.8M752.8,602.8l3.2,6.3M754.6,600.5l3.2,6.3M784.6,585.9L776.4,604.1M776.4,604.1l4.6,5.3M777.6,601.4l2.3,2.6M805.5,585.6L798.5,604.4M798.5,604.4l4.9,5.0M799.5,601.6l2.5,2.5M827.0,585.6L820.0,604.4M820.0,604.4l4.9,5.0M821.1,601.6l2.5,2.5M848.6,585.7L841.4,604.3M841.4,604.3l4.9,5.0M842.5,601.5l2.4,2.5M81.0,574.8L61.0,574.8M61.0,574.8l-2.9,6.4M64.0,574.8l-2.9,6.4M67.0,574.8l-2.9,6.4M70.0,574.8l-1.5,3.2M102.5,574.8L82.5,574.8M82.5,574.8l-2.9,6.4M85.5,574.8l-2.9,6.4M88.5,574.8l-2.9,6.4M91.5,574.8l-1.5,3.2M124.0,574.8L104.0,574.8M104.0,574.8l-2.9,6.4M107.0,574.8l-2.9,6.4M110.0,574.8l-2.9,6.4M113.0,574.8l-1.5,3.2M145.5,574.8L125.5,574.8M125.5,574.8l-2.9,6.4M128.5,574.8l-2.9,6.4M131.5,574.8l-2.9,6.4M134.5,574.8l-1.5,3.2M167.0,574.9L147.0,574.7M147.0,574.7l-3.0,6.4M150.0,574.8l-3.0,6.4M153.0,574.8l-3.0,6.4M188.5,574.9L168.5,574.7M168.5,574.7l-3.0,6.3M171.5,574.7l-3.0,6.3M174.5,574.8l-3.0,6.3M210.0,574.8L190.0,574.8M190.0,574.8l-3.0,6.4M193.0,574.8l-3.0,6.4M196.0,574.8l-3.0,6.4M231.5,574.8L211.5,574.8M211.5,574.8l-2.9,6.4M214.5,574.8l-2.9,6.4M217.5,574.8l-2.9,6.4M253.0,574.8L233.0,574.8M233.0,574.8l-2.9,6.4M236.0,574.8l-2.9,6.4M239.0,574.8l-2.9,6.4M274.5,574.8L254.5,574.8M254.5,574.8l-2.9,6.4M257.5,574.8l-2.9,6.4M260.5,574.8l-2.9,6.4M296.0,574.8L276.0,574.8M276.0,574.8l-2.9,6.4M279.0,574.8l-2.9,6.4M282.0,574.8l-2.9,6.4M317.5,574.5L297.5,575.1M297.5,575.1l-2.7,6.5M300.5,575.0l-2.7,6.5M303.5,574.9l-2.7,6.5M339.0,574.0L319.0,575.6M319.0,575.6l-2.4,6.6M322.0,575.4l-2.4,6.6M325.0,575.1l-2.4,6.6M360.5,573.8L340.5,575.8M340.5,575.8l-2.3,6.6M343.5,575.5l-2.3,6.6M346.5,575.2l-2.3,6.6M349.5,574.9l-1.2,3.3M382.0,573.9L362.0,575.7M362.0,575.7l-2.4,6.6M365.0,575.4l-2.4,6.6M368.0,575.2l-2.4,6.6M371.0,574.9l-1.2,3.3M403.5,573.9L383.5,575.7M383.5,575.7l-2.4,6.6M386.5,575.4l-2.4,6.6M389.5,575.1l-2.4,6.6M392.5,574.9l-1.2,3.3M425.0,573.9L405.0,575.7M405.0,575.7l-2.4,6.6M408.0,575.4l-2.4,6.6M411.0,575.2l-2.4,6.6M414.0,574.9l-1.2,3.3M446.4,573.7L426.6,575.9M426.6,575.9l-2.2,6.6M429.5,575.6l-2.2,6.6M432.5,575.2l-2.2,6.6M435.5,574.9l-1.1,3.3M467.7,572.4L448.3,577.2M448.3,577.2l-1.3,6.9M451.2,576.5l-1.3,6.9M454.1,575.8l-1.3,6.9M457.0,575.0l-0.7,3.4M488.9,571.5L470.1,578.1M470.1,578.1l-0.7,7.0M472.9,577.1l-0.7,7.0M475.7,576.1l-0.7,7.0M478.6,575.1l-0.3,3.5M510.4,571.4L491.6,578.2M491.6,578.2l-0.6,7.0M494.4,577.2l-0.6,7.0M497.2,576.2l-0.6,7.0M500.1,575.1l-0.3,3.5M531.9,571.4L513.1,578.2M513.1,578.2l-0.6,7.0M515.9,577.2l-0.6,7.0M518.7,576.2l-0.6,7.0M521.6,575.1l-0.3,3.5M553.5,571.7L534.5,577.9M534.5,577.9l-0.8,7.0M537.4,577.0l-0.8,7.0M540.2,576.1l-0.8,7.0M543.1,575.1l-0.4,3.5M575.3,573.1L555.7,576.5M555.7,576.5l-1.8,6.8M558.6,576.0l-1.8,6.8M561.6,575.5l-1.8,6.8M597.0,573.9L577.0,575.7M577.0,575.7l-2.3,6.6M580.0,575.5l-2.3,6.6M583.0,575.2l-2.3,6.6M618.5,573.9L598.5,575.7M598.5,575.7l-2.4,6.6M601.5,575.4l-2.4,6.6M604.5,575.1l-2.4,6.6M640.0,573.9L620.0,575.7M620.0,575.7l-2.4,6.6M623.0,575.4l-2.4,6.6M626.0,575.2l-2.4,6.6M661.4,573.4L641.6,576.2M641.6,576.2l-2.0,6.7M644.6,575.8l-2.0,6.7M647.5,575.3l-2.0,6.7M681.7,569.9L664.3,579.7M664.3,579.7l0.6,7.0M666.9,578.2l0.6,7.0M669.5,576.8l0.3,3.5M701.7,567.9L687.3,581.7M687.3,581.7l2.3,6.6M689.5,579.7l2.3,6.6M723.1,567.7L708.9,581.9M708.9,581.9l2.4,6.6M711.0,579.7l2.4,6.6M744.6,567.7L730.4,581.9M730.4,581.9l2.4,6.6M732.6,579.8l2.4,6.6M765.4,567.1L752.6,582.5M752.6,582.5l3.0,6.3M754.5,580.2l3.0,6.3M784.3,565.5L776.7,584.1M776.7,584.1l4.8,5.1M777.9,581.3l2.4,2.6M805.4,565.4L798.6,584.2M798.6,584.2l5.0,4.9M799.6,581.4l2.5,2.5M826.9,565.4L820.1,584.2M820.1,584.2l5.0,4.9M821.1,581.4l2.5,2.5M848.5,565.4L841.5,584.2M841.5,584.2l4.9,5.0M842.5,581.3l2.5,2.5M81.0,554.6L61.0,554.6M61.0,554.6l-2.9,6.4M64.0,554.6l-2.9,6.4M67.0,554.6l-2.9,6.4M70.0,554.6l-1.5,3.2M102.5,554.6L82.5,554.6M82.5,554.6l-2.9,6.4M85.5,554.6l-2.9,6.4M88.5,554.6l-2.9,6.4M91.5,554.6l-1.5,3.2M124.0,554.6L104.0,554.6M104.0,554.6l-2.9,6.4M107.0,554.6l-2.9,6.4M110.0,554.6l-2.9,6.4M113.0,554.6l-1.5,3.2M145.5,554.6L125.5,554.6M125.5,554.6l-3.0,6.4M128.5,554.6l-3.0,6.4M131.5,554.6l-3.0,6.4M167.0,554.8L147.0,554.4M147.0,554.4l-3.0,6.3M150.0,554.5l-3.0,6.3M153.0,554.5l-3.0,6.3M188.5,554.9L168.5,554.3M168.5,554.3l-3.1,6.3M171.5,554.4l-3.1,6.3M174.5,554.5l-1.6,3.1M210.0,554.8L190.0,554.4M190.0,554.4l-3.0,6.3M193.0,554.5l-3.0,6.3M196.0,554.5l-1.5,3.2M231.5,554.7L211.5,554.5M211.5,554.5l-3.0,6.4M214.5,554.6l-3.0,6.4M217.5,554.6l-3.0,6.4M253.0,554.6L233.0,554.6M233.0,554.6l-3.0,6.4M236.0,554.6l-3.0,6.4M239.0,554.6l-3.0,6.4M274.5,554.7L254.5,554.5M254.5,554.5l-3.0,6.4M257.5,554.6l-3.0,6.4M260.5,554.6l-3.0,6.4M296.0,554.6L276.0,554.6M276.0,554.6l-3.0,6.4M279.0,554.6l-3.0,6.4M282.0,554.6l-1.5,3.2M317.5,554.3L297.5,554.9M297.5,554.9l-2.7,6.5M300.5,554.8l-2.7,6.5M303.5,554.7l-1.4,3.2M339.0,553.6L319.0,555.6M319.0,555.6l-2.3,6.6M322.0,555.3l-2.3,6.6M325.0,555.0l-1.1,3.3M360.4,553.4L340.6,555.8M340.6,555.8l-2.2,6.7M343.6,555.4l-2.2,6.7M346.5,555.1l-2.2,6.7M381.9,553.5L362.1,555.7M362.1,555.7l-2.2,6.6M365.0,555.3l-2.2,6.6M368.0,555.0l-2.2,6.6M371.0,554.7l-1.1,3.3M403.5,553.6L383.5,555.6M383.5,555.6l-2.3,6.6M386.5,555.3l-2.3,6.6M389.5,555.0l-2.3,6.6M392.5,554.7l-1.2,3.3M425.0,553.6L405.0,555.6M405.0,555.6l-2.3,6.6M408.0,555.3l-2.3,6.6M411.0,555.0l-2.3,6.6M414.0,554.7l-1.1,3.3M446.4,553.3L426.6,555.9M426.6,555.9l-2.1,6.7M429.6,555.5l-2.1,6.7M432.5,555.1l-2.1,6.7M467.7,552.3L448.3,556.9M448.3,556.9l-1.4,6.9M451.2,556.2l-1.4,6.9M454.1,555.5l-1.4,6.9M489.0,551.5L470.0,557.7M470.0,557.7l-0.8,7.0M472.8,556.8l-0.8,7.0M475.7,555.8l-0.8,7.0M478.5,554.9l-0.4,3.5M510.4,551.3L491.6,557.9M491.6,557.9l-0.7,7.0M494.4,556.9l-0.7,7.0M497.2,555.9l-0.7,7.0M500.1,554.9l-0.3,3.5M532.0,551.4L513.0,557.8M513.0,557.8l-0.7,7.0M515.9,556.8l-0.7,7.0M518.7,555.9l-0.7,7.0M521.6,554.9l-0.4,3.5M553.7,552.0L534.3,557.2M534.3,557.2l-1.2,6.9M537.2,556.4l-1.2,6.9M540.1,555.6l-1.2,6.9M575.4,553.1L555.6,556.1M555.6,556.1l-1.9,6.7M558.6,555.7l-1.9,6.7M561.5,555.2l-1.9,6.7M597.0,553.6L577.0,555.6M577.0,555.6l-2.3,6.6M580.0,555.3l-2.3,6.6M583.0,555.0l-2.3,6.6M618.5,553.7L598.5,555.5M598.5,555.5l-2.4,6.6M601.5,555.2l-2.4,6.6M604.5,555.0l-2.4,6.6M640.0,553.7L620.0,555.5M620.0,555.5l-2.3,6.6M623.0,555.3l-2.3,6.6M626.0,555.0l-2.3,6.6M661.4,553.0L641.6,556.2M641.6,556.2l-1.9,6.8M644.6,555.7l-1.9,6.8M647.5,555.2l-1.0,3.4M682.0,550.2L664.0,559.0M664.0,559.0l0.1,7.0M666.7,557.6l0.1,7.0M702.0,548.0L687.0,561.2M687.0,561.2l2.0,6.7M689.3,559.2l2.0,6.7M723.1,547.6L708.9,561.6M708.9,561.6l2.4,6.6M711.0,559.5l2.4,6.6M744.6,547.5L730.4,561.7M730.4,561.7l2.4,6.6M732.6,559.6l2.4,6.6M765.4,546.9L752.6,562.3M752.6,562.3l3.0,6.3M754.6,560.0l3.0,6.3M784.7,545.5L776.3,563.7M776.3,563.7l4.5,5.4M777.5,560.9l2.3,2.7M805.6,545.3L798.4,563.9M798.4,563.9l4.9,5.0M799.5,561.1l2.4,2.5M827.1,545.3L819.9,563.9M819.9,563.9l4.9,5.0M821.0,561.1l2.5,2.5M848.8,545.3L841.2,563.9M841.2,563.9l4.8,5.1M842.3,561.1l2.4,2.6M81.0,534.4L61.0,534.4M61.0,534.4l-3.0,6.4M64.0,534.4l-3.0,6.4M67.0,534.4l-1.5,3.2M102.5,534.4L82.5,534.4M82.5,534.4l-3.0,6.4M85.5,534.4l-3.0,6.4M124.0,534.4L104.0,534.4M104.0,534.4l-3.0,6.4M107.0,534.4l-3.0,6.4M110.0,534.4l-1.5,3.2M145.5,534.5L125.5,534.3M125.5,534.3l-3.0,6.3M128.5,534.3l-3.0,6.3M131.5,534.4l-1.5,3.2M167.0,534.8L147.0,534.0M147.0,534.0l-3.2,6.3M150.0,534.1l-3.2,6.3M188.5,535.1L168.5,533.7M168.5,533.7l-3.4,6.2M171.5,533.9l-3.4,6.2M210.0,535.1L190.0,533.7M190.0,533.7l-3.4,6.1M193.0,533.9l-3.4,6.1M231.5,535.1L211.5,533.7M211.5,533.7l-3.4,6.1M214.5,533.9l-3.4,6.1M253.0,535.1L233.0,533.7M233.0,533.7l-3.4,6.1M236.0,533.9l-1.7,3.1M274.5,535.0L254.5,533.8M254.5,533.8l-3.3,6.2M257.5,534.0l-3.3,6.2M296.0,534.7L276.0,534.1M276.0,534.1l-3.2,6.3M279.0,534.2l-3.2,6.3M317.5,534.0L297.5,534.8M297.5,534.8l-2.7,6.5M300.5,534.7l-2.7,6.5M338.9,533.1L319.1,535.7M319.1,535.7l-2.1,6.7M322.1,535.3l-2.1,6.7M360.3,532.5L340.7,536.3M340.7,536.3l-1.7,6.8M343.6,535.7l-1.7,6.8M346.6,535.2l-0.8,3.4M381.8,532.3L362.2,536.5M362.2,536.5l-1.5,6.9M365.2,535.9l-1.5,6.9M368.1,535.3l-0.8,3.4M403.2,532.1L383.8,536.7M383.8,536.7l-1.4,6.9M386.7,536.0l-1.4,6.9M424.7,532.1L405.3,536.7M405.3,536.7l-1.4,6.9M408.2,536.0l-1.4,6.9M411.1,535.3l-0.7,3.4M446.3,532.3L426.7,536.5M426.7,536.5l-1.6,6.8M429.7,535.9l-1.6,6.8M432.6,535.2l-0.8,3.4M467.8,532.4L448.2,536.4M448.2,536.4l-1.6,6.8M451.1,535.8l-1.6,6.8M454.1,535.2l-0.8,3.4M489.3,532.5L469.7,536.3M469.7,536.3l-1.7,6.8M472.6,535.8l-1.7,6.8M475.6,535.2l-1.7,6.8M510.9,532.8L491.1,536.0M491.1,536.0l-1.9,6.8M494.1,535.5l-1.9,6.8M497.1,535.1l-1.9,6.8M532.4,533.2L512.6,535.6M512.6,535.6l-2.2,6.7M515.5,535.2l-2.2,6.7M518.5,534.9l-1.1,3.3M553.9,533.4L534.1,535.4M534.1,535.4l-2.3,6.6M537.0,535.1l-2.3,6.6M540.0,534.8l-1.1,3.3M575.5,533.5L555.5,535.3M555.5,535.3l-2.4,6.6M558.5,535.0l-2.4,6.6M561.5,534.8l-1.2,3.3M597.0,533.6L577.0,535.2M577.0,535.2l-2.5,6.6M580.0,534.9l-2.5,6.6M583.0,534.7l-1.2,3.3M618.5,533.6L598.5,535.2M598.5,535.2l-2.4,6.6M601.5,535.0l-2.4,6.6M604.5,534.7l-1.2,3.3M640.0,533.5L620.0,535.3M620.0,535.3l-2.3,6.6M623.0,535.0l-2.3,6.6M661.4,533.2L641.6,535.6M641.6,535.6l-2.2,6.7M644.5,535.2l-2.2,6.7M682.5,531.4L663.5,537.4M663.5,537.4l-0.9,7.0M666.3,536.5l-0.9,7.0M702.7,528.6L686.3,540.2M686.3,540.2l1.3,6.9M688.8,538.4l1.3,6.9M723.7,528.0L708.3,540.8M708.3,540.8l1.8,6.8M710.6,538.9l1.8,6.8M745.0,527.8L730.0,541.0M730.0,541.0l2.0,6.7M732.3,539.0l2.0,6.7M765.8,527.0L752.2,541.8M752.2,541.8l2.7,6.5M754.3,539.6l2.7,6.5M785.8,525.9L775.2,542.9M775.2,542.9l3.8,5.9M776.8,540.3l3.8,5.9M806.9,525.7L797.1,543.1M797.1,543.1l4.1,5.7M798.6,540.5l4.1,5.7M800.0,537.9l2.1,2.8M828.3,525.6L818.7,543.2M818.7,543.2l4.2,5.6M820.1,540.5l4.2,5.6M821.6,537.9l2.1,2.8M849.7,525.6L840.3,543.2M840.3,543.2l4.2,5.6M841.7,540.6l4.2,5.6M81.0,514.2L61.0,514.2M61.0,514.2l-3.0,6.4M64.0,514.2l-3.0,6.4M102.5,514.2L82.5,514.2M82.5,514.2l-2.9,6.4M85.5,514.2l-2.9,6.4M124.0,514.2L104.0,514.2M104.0,514.2l-2.9,6.4M107.0,514.2l-2.9,6.4M145.5,514.3L125.5,514.1M125.5,514.1l-3.0,6.3M128.5,514.1l-3.0,6.3M167.0,514.9L147.0,513.5M147.0,513.5l-3.4,6.1M150.0,513.7l-3.4,6.1M188.4,515.5L168.6,512.9M168.6,512.9l-3.8,5.9M171.6,513.3l-1.9,3.0M209.9,515.3L190.1,513.1M190.1,513.1l-3.6,6.0M193.0,513.4l-1.8,3.0M231.5,515.1L211.5,513.3M211.5,513.3l-3.5,6.1M214.5,513.6l-1.7,3.0M253.0,515.1L233.0,513.3M233.0,513.3l-3.5,6.1M236.0,513.6l-1.7,3.0M274.5,515.1L254.5,513.3M254.5,513.3l-3.5,6.1M257.5,513.6l-1.7,3.0M296.0,514.7L276.0,513.7M276.0,513.7l-3.3,6.2M279.0,513.8l-1.6,3.1M317.5,513.6L297.5,514.8M297.5,514.8l-2.6,6.5M300.5,514.6l-1.3,3.3M338.8,512.4L319.2,516.0M319.2,516.0l-1.8,6.8M322.1,515.4l-0.9,3.4M360.2,511.8L340.8,516.6M340.8,516.6l-1.4,6.9M343.7,515.8l-1.4,6.9M381.7,511.7L362.3,516.7M362.3,516.7l-1.2,6.9M365.2,516.0l-1.2,6.9M403.2,511.6L383.8,516.8M383.8,516.8l-1.2,6.9M386.7,516.0l-1.2,6.9M424.7,511.6L405.3,516.8M405.3,516.8l-1.2,6.9M408.2,516.0l-1.2,6.9M446.2,511.8L426.8,516.6M426.8,516.6l-1.3,6.9M429.7,515.9l-1.3,6.9M467.8,512.5L448.2,515.9M448.2,515.9l-1.8,6.8M451.1,515.4l-1.8,6.8M489.5,513.3L469.5,515.1M469.5,515.1l-2.3,6.6M472.5,514.9l-2.3,6.6M475.5,514.6l-1.2,3.3M511.0,513.4L491.0,515.0M491.0,515.0l-2.4,6.6M494.0,514.8l-2.4,6.6M497.0,514.5l-1.2,3.3M532.5,513.3L512.5,515.1M512.5,515.1l-2.4,6.6M515.5,514.8l-2.4,6.6M518.5,514.5l-1.2,3.3M554.0,513.3L534.0,515.1M534.0,515.1l-2.4,6.6M537.0,514.8l-2.4,6.6M540.0,514.5l-1.2,3.3M575.5,513.6L555.5,514.8M555.5,514.8l-2.6,6.5M558.5,514.6l-2.6,6.5M561.5,514.4l-1.3,3.3M597.0,514.0L577.0,514.4M577.0,514.4l-2.8,6.4M580.0,514.4l-2.8,6.4M618.5,513.5L598.5,514.9M598.5,514.9l-2.5,6.6M601.5,514.7l-2.5,6.6M640.0,513.3L620.0,515.1M620.0,515.1l-2.4,6.6M623.0,514.8l-2.4,6.6M661.5,513.3L641.5,515.1M641.5,515.1l-2.4,6.6M644.5,514.8l-2.4,6.6M682.8,512.1L663.2,516.3M663.2,516.3l-1.6,6.8M666.1,515.6l-1.6,6.8M702.5,508.2L686.5,520.2M686.5,520.2l1.5,6.9M688.9,518.4l1.5,6.9M723.7,507.8L708.3,520.6M708.3,520.6l1.8,6.8M710.6,518.7l1.8,6.8M745.2,507.8L729.8,520.6M729.8,520.6l1.8,6.8M732.1,518.7l1.8,6.8M766.1,507.2L751.9,521.2M751.9,521.2l2.4,6.6M754.0,519.1l2.4,6.6M785.7,505.7L775.3,522.7M775.3,522.7l3.9,5.8M776.8,520.2l3.9,5.8M778.4,517.6l1.9,2.9M807.0,505.5L797.0,522.9M797.0,522.9l4.0,5.7M798.5,520.3l4.0,5.7M800.0,517.7l2.0,2.9M828.5,505.5L818.5,522.9M818.5,522.9l4.0,5.7M820.0,520.3l4.0,5.7M821.5,517.7l2.0,2.9M850.0,505.5L840.0,522.9M840.0,522.9l4.0,5.7M841.5,520.3l4.0,5.7M843.0,517.7l2.0,2.9M81.0,494.2L61.0,493.8M61.0,493.8l-3.1,6.3M64.0,493.9l-3.1,6.3M102.5,494.1L82.5,493.9M82.5,493.9l-3.0,6.4M85.5,494.0l-3.0,6.4M124.0,494.1L104.0,493.9M104.0,493.9l-3.0,6.3M107.0,493.9l-3.0,6.3M145.5,494.5L125.5,493.5M125.5,493.5l-3.3,6.2M128.5,493.6l-3.3,6.2M166.8,496.0L147.2,492.0M147.2,492.0l-4.2,5.6M150.1,492.6l-2.1,2.8M187.8,497.6L169.2,490.4M169.2,490.4l-5.1,4.9M209.7,496.5L190.3,491.5M190.3,491.5l-4.4,5.4M193.2,492.3l-2.2,2.7M231.4,495.1L211.6,492.9M211.6,492.9l-3.6,6.0M214.5,493.2l-1.8,3.0M253.0,494.9L233.0,493.1M233.0,493.1l-3.5,6.1M236.0,493.4l-1.8,3.0M274.5,494.9L254.5,493.1M254.5,493.1l-3.5,6.1M257.5,493.4l-1.7,3.0M296.0,494.1L276.0,493.9M276.0,493.9l-3.0,6.3M279.0,493.9l-1.5,3.2M317.4,492.4L297.6,495.6M297.6,495.6l-1.9,6.8M338.7,491.5L319.3,496.5M319.3,496.5l-1.3,6.9M360.2,491.4L340.8,496.6M340.8,496.6l-1.2,6.9M343.7,495.8l-0.6,3.5M381.7,491.4L362.3,496.6M362.3,496.6l-1.2,6.9M365.2,495.8l-1.2,6.9M403.2,491.4L383.8,496.6M383.8,496.6l-1.2,6.9M386.7,495.8l-1.2,6.9M424.7,491.4L405.3,496.6M405.3,496.6l-1.2,6.9M408.2,495.8l-1.2,6.9M446.2,491.7L426.8,496.3M426.8,496.3l-1.4,6.9M429.7,495.6l-1.4,6.9M467.9,492.7L448.1,495.3M448.1,495.3l-2.1,6.7M451.1,494.9l-2.1,6.7M489.5,494.0L469.5,494.0M469.5,494.0l-2.9,6.4M472.5,494.0l-2.9,6.4M511.0,493.7L491.0,494.3M491.0,494.3l-2.8,6.5M494.0,494.2l-2.8,6.5M497.0,494.1l-1.4,3.2M532.5,493.3L512.5,494.7M512.5,494.7l-2.5,6.6M515.5,494.5l-2.5,6.6M518.5,494.3l-1.2,3.3M554.0,493.4L534.0,494.6M534.0,494.6l-2.6,6.5M537.0,494.4l-2.6,6.5M540.0,494.2l-1.3,3.3M575.5,494.6L555.5,493.4M555.5,493.4l-3.3,6.2M558.5,493.6l-3.3,6.2M596.8,495.9L577.2,492.1M577.2,492.1l-4.1,5.7M580.1,492.7l-4.1,5.7M618.5,494.2L598.5,493.8M598.5,493.8l-3.0,6.3M601.5,493.9l-3.0,6.3M640.0,493.3L620.0,494.7M620.0,494.7l-2.5,6.6M623.0,494.5l-2.5,6.6M661.5,493.3L641.5,494.7M641.5,494.7l-2.5,6.6M644.5,494.5l-2.5,6.6M682.9,492.8L663.1,495.2M663.1,495.2l-2.2,6.7M666.0,494.8l-2.2,6.7M703.0,488.7L686.0,499.3M686.0,499.3l0.9,7.0M688.6,497.7l0.9,7.0M723.8,487.7L708.2,500.3M708.2,500.3l1.7,6.8M710.6,498.4l1.7,6.8M745.2,487.6L729.8,500.4M729.8,500.4l1.8,6.8M732.1,498.5l1.8,6.8M766.1,487.0L751.9,501.0M751.9,501.0l2.4,6.6M754.0,498.9l2.4,6.6M785.9,485.6L775.1,502.4M775.1,502.4l3.8,5.9M776.7,499.9l3.8,5.9M778.3,497.4l1.9,3.0M807.0,485.4L797.0,502.6M797.0,502.6l4.0,5.7M798.5,500.1l4.0,5.7M800.0,497.5l2.0,2.9M828.5,485.4L818.5,502.6M818.5,502.6l4.0,5.7M820.0,500.1l4.0,5.7M821.5,497.5l2.0,2.9M850.1,485.4L839.9,502.6M839.9,502.6l4.0,5.8M841.5,500.0l4.0,5.8M843.0,497.4l2.0,2.9M80.8,475.8L61.2,471.8M61.2,471.8l-4.2,5.7M102.2,476.0L82.8,471.6M82.8,471.6l-4.3,5.5M123.7,476.1L104.3,471.5M104.3,471.5l-4.3,5.5M145.2,476.4L125.8,471.2M125.8,471.2l-4.5,5.4M167.0,474.6L147.0,473.0M147.0,473.0l-3.4,6.1M178.8,483.8L178.2,463.8M178.3,466.8l-3.2,-1.4M199.0,483.8L201.0,463.8M200.7,466.8l-3.0,-1.8M229.5,479.9L213.5,467.7M215.9,469.6l-3.1,1.6M252.0,478.2L234.0,469.4M234.0,469.4l-5.4,4.4M274.4,474.9L254.6,472.7M254.6,472.7l-3.7,6.0M291.6,465.5L280.4,482.1M282.1,479.6l1.8,3.0M313.6,465.9L301.4,481.7M303.2,479.4l1.6,3.1M338.3,470.1L319.7,477.5M322.5,476.4l-0.2,3.5M360.0,470.7L341.0,476.9M341.0,476.9l-0.8,7.0M381.6,471.2L362.4,476.4M362.4,476.4l-1.2,6.9M365.2,475.6l-0.6,3.5M403.2,471.5L383.8,476.1M383.8,476.1l-1.4,6.9M386.7,475.4l-0.7,3.4M424.8,471.8L405.2,475.8M405.2,475.8l-1.6,6.8M408.1,475.2l-0.8,3.4M446.3,472.0L426.7,475.6M426.7,475.6l-1.8,6.8M468.0,473.1L448.0,474.5M448.0,474.5l-2.5,6.6M451.0,474.3l-1.2,3.3M489.0,476.9L470.0,470.7M470.0,470.7l-4.8,5.2M472.8,471.7l-2.4,2.6M508.9,479.9L493.1,467.7M493.1,467.7l-6.2,3.2M495.5,469.5l-3.1,1.6M529.5,480.9L515.5,466.7M515.5,466.7l-6.6,2.4M517.6,468.8l-3.3,1.2M551.0,481.0L537.0,466.6M537.0,466.6l-6.6,2.3M539.1,468.8l-3.3,1.2M572.4,481.1L558.6,466.5M558.6,466.5l-6.6,2.2M560.7,468.7l-3.3,1.1M592.2,482.3L581.8,465.3M581.8,465.3l-7.0,0.8M583.4,467.8l-3.5,0.4M613.0,482.7L604.0,464.9M604.0,464.9l-7.0,0.3M605.3,467.6l-3.5,0.1M636.4,481.5L623.6,466.1M623.6,466.1l-6.8,1.8M625.5,468.4l-3.4,0.9M659.5,479.8L643.5,467.8M643.5,467.8l-6.2,3.3M645.9,469.6l-3.1,1.7M678.7,482.0L667.3,465.6M667.3,465.6l-6.9,1.2M669.0,468.1l-3.5,0.6M698.1,483.1L690.9,464.5M690.9,464.5l-7.0,-0.4M692.0,467.3l-3.5,-0.2M723.1,480.8L708.9,466.8M708.9,466.8l-6.6,2.4M711.0,468.9l-3.3,1.2M747.1,471.1L727.9,476.5M727.9,476.5l-1.1,6.9M730.8,475.7l-0.6,3.5M765.6,466.3L752.4,481.3M752.4,481.3l2.8,6.4M754.3,479.0l2.8,6.4M785.9,465.4L775.1,482.2M775.1,482.2l3.8,5.9M776.7,479.7l3.8,5.9M807.2,465.3L796.8,482.3M796.8,482.3l3.9,5.8M798.4,479.8l3.9,5.8M828.7,465.3L818.3,482.3M818.3,482.3l3.9,5.8M819.9,479.8l3.9,5.8M850.3,465.3L839.7,482.3M839.7,482.3l3.9,5.9M841.3,479.7l3.9,5.9M80.2,449.6L61.8,457.6M64.6,456.4l-0.1,3.5M101.7,449.6L83.3,457.6M86.1,456.4l-0.1,3.5M123.9,452.0L104.1,455.2M107.1,454.7l-0.9,3.4M140.0,462.5L131.0,444.7M132.3,447.4l-3.5,0.1M156.6,463.6L157.4,443.6M157.3,446.6l-3.1,-1.6M185.3,460.9L171.7,446.3M195.3,462.5L204.7,444.7M219.5,463.4L223.5,443.8M241.0,463.4L245.0,443.8M274.4,451.9L254.6,455.3M257.6,454.8l-0.9,3.4M295.8,451.6L276.2,455.6M279.1,455.0l-0.8,3.4M314.9,446.9L300.1,460.3M302.3,458.3l1.0,3.4M335.2,445.8L322.8,461.4M324.7,459.1l1.6,3.1M358.3,447.4L342.7,459.8M345.0,458.0l0.8,3.4M381.6,450.8L362.4,456.4M362.4,456.4l-1.0,6.9M403.3,451.7L383.7,455.5M383.7,455.5l-1.7,6.8M424.8,451.9L405.2,455.3M405.2,455.3l-1.8,6.8M446.3,451.9L426.7,455.3M426.7,455.3l-1.8,6.8M467.9,452.5L448.1,454.7M448.1,454.7l-2.2,6.7M487.7,459.3L471.3,447.9M471.3,447.9l-6.1,3.5M505.0,462.8L497.0,444.4M497.0,444.4l-7.0,-0.1M526.0,463.0L519.0,444.2M519.0,444.2l-7.0,-0.6M547.5,463.0L540.5,444.2M540.5,444.2l-7.0,-0.5M569.1,462.9L561.9,444.3M561.9,444.3l-7.0,-0.5M589.2,463.4L584.8,443.8M584.8,443.8l-6.9,-1.5M610.3,463.4L606.7,443.8M606.7,443.8l-6.8,-1.8M631.8,463.4L628.2,443.8M628.2,443.8l-6.8,-1.7M653.5,463.4L649.5,443.8M649.5,443.8l-6.8,-1.6M673.5,463.6L672.5,443.6M672.5,443.6l-6.5,-2.6M694.5,463.6L694.5,443.6M694.5,443.6l-6.4,-2.9M716.1,463.6L715.9,443.6M715.9,443.6l-6.4,-2.9M740.5,463.1L734.5,444.1M734.5,444.1l-7.0,-0.9M735.4,446.9l-3.5,-0.4M764.5,445.3L753.5,461.9M753.5,461.9l3.7,6.0M755.1,459.4l3.7,6.0M785.5,444.9L775.5,462.3M775.5,462.3l4.0,5.7M777.0,459.7l4.0,5.7M807.0,445.0L797.0,462.2M797.0,462.2l4.0,5.7M798.5,459.7l4.0,5.7M828.7,445.1L818.3,462.1M818.3,462.1l3.9,5.8M819.9,459.6l3.9,5.8M850.6,445.3L839.4,461.9M839.4,461.9l3.6,6.0M841.1,459.4l3.6,6.0M76.2,442.0L65.8,424.8M67.4,427.4l-3.5,0.4M98.3,441.5L86.7,425.3M88.4,427.7l-3.4,0.7M119.7,441.6L108.3,425.2M110.0,427.6l-3.5,0.6M145.0,430.1L126.0,436.7M128.9,435.7l-0.3,3.5M164.6,439.9L149.4,426.9M151.7,428.9l-3.2,1.5M185.0,441.0L172.0,425.8M199.9,443.4L200.1,423.4M227.0,441.8L216.0,425.0M239.5,442.8L246.5,424.0M272.9,428.0L256.1,438.8M258.6,437.2l0.5,3.5M290.9,424.7L281.1,442.1M282.6,439.5l2.1,2.8M317.3,435.5L297.7,431.3M300.7,431.9l-2.1,2.8M334.2,424.9L323.8,441.9M325.4,439.4l2.0,2.9M360.2,435.7L340.8,431.1M343.7,431.8l-2.2,2.8M381.1,429.3L362.9,437.5M362.9,437.5l-0.0,7.0M403.3,431.2L383.7,435.6M383.7,435.6l-1.5,6.9M424.8,431.6L405.2,435.2M405.2,435.2l-1.8,6.8M446.3,431.6L426.7,435.2M426.7,435.2l-1.7,6.8M467.9,432.0L448.1,434.8M448.1,434.8l-2.0,6.7M487.5,439.4L471.5,427.4M471.5,427.4l-6.2,3.3M504.9,442.6L497.1,424.2M497.1,424.2l-7.0,-0.2M526.0,442.8L519.0,424.0M519.0,424.0l-7.0,-0.6M547.5,442.8L540.5,424.0M540.5,424.0l-7.0,-0.6M568.7,442.9L562.3,423.9M562.3,423.9l-7.0,-0.7M588.9,443.2L585.1,423.6M585.1,423.6l-6.8,-1.7M610.2,443.2L606.8,423.6M606.8,423.6l-6.8,-1.8M631.7,443.3L628.3,423.5M628.3,423.5l-6.8,-1.8M652.5,443.3L650.5,423.5M650.5,423.5l-6.6,-2.3M673.0,443.4L673.0,423.4M673.0,423.4l-6.4,-2.9M694.5,443.4L694.5,423.4M694.5,423.4l-6.4,-2.9M716.0,443.4L716.0,423.4M716.0,423.4l-6.4,-2.9M739.0,443.3L736.0,423.5M736.0,423.5l-6.7,-2.0M736.5,426.5l-3.4,-1.0M764.6,425.1L753.4,441.7M753.4,441.7l3.7,6.0M755.1,439.2l3.7,6.0M785.5,424.8L775.5,442.0M775.5,442.0l4.0,5.7M777.0,439.4l4.0,5.7M807.1,424.8L796.9,442.0M796.9,442.0l4.0,5.8M798.4,439.4l4.0,5.8M829.2,425.2L817.8,441.6M817.8,441.6l3.6,6.0M819.5,439.2l3.6,6.0M852.1,426.4L837.9,440.4M837.9,440.4l2.4,6.6M840.0,438.3l2.4,6.6M75.6,404.3L66.4,422.1M67.8,419.4l2.2,2.8M102.5,413.0L82.5,413.4M85.5,413.3l-1.4,3.2M119.0,404.5L109.0,421.9M110.5,419.3l2.0,2.9M145.4,414.9L125.6,411.5M128.6,412.0l-2.0,2.9M166.8,415.2L147.2,411.2M150.1,411.8l-2.1,2.8M185.2,420.6L171.8,405.8M205.7,421.4L194.3,405.0M231.5,413.8L211.5,412.6M249.5,405.6L236.5,420.8M270.6,405.3L258.4,421.1M260.2,418.8l1.6,3.1M295.6,410.3L276.4,416.1M279.3,415.2l-0.5,3.5M311.6,404.1L303.4,422.3M304.6,419.6l2.3,2.6M337.5,408.0L320.5,418.4M323.0,416.8l0.4,3.5M356.3,405.0L344.7,421.4M346.5,418.9l1.8,3.0M381.6,410.6L362.4,415.8M365.2,415.0l-0.6,3.5M403.0,410.2L384.0,416.2M384.0,416.2l-0.9,7.0M420.7,405.0L409.3,421.4M409.3,421.4l3.5,6.1M444.1,406.7L428.9,419.7M428.9,419.7l1.9,6.7M460.5,403.5L455.5,422.9M455.5,422.9l5.5,4.4M488.2,418.1L470.8,408.3M470.8,408.3l-5.7,4.1M505.9,421.9L496.1,404.5M496.1,404.5l-7.0,0.6M526.8,422.2L518.2,404.2M518.2,404.2l-7.0,0.1M548.0,422.3L540.0,404.1M540.0,404.1l-7.0,-0.1M568.7,422.7L562.3,403.7M562.3,403.7l-7.0,-0.7M588.2,423.1L585.8,403.3M585.8,403.3l-6.7,-2.2M608.4,423.2L608.6,403.2M608.6,403.2l-6.3,-3.0M628.4,423.1L631.6,403.3M631.6,403.3l-5.8,-3.9M648.8,422.8L654.2,403.6M654.2,403.6l-5.3,-4.5M670.5,422.9L675.5,403.5M675.5,403.5l-5.5,-4.4M692.0,422.9L697.0,403.5M697.0,403.5l-5.4,-4.5M712.0,422.3L720.0,404.1M720.0,404.1l-4.6,-5.3M718.8,406.8l-2.3,-2.6M732.3,421.7L742.7,404.7M742.7,404.7l-3.9,-5.8M741.2,407.2l-1.9,-2.9M766.1,420.2L751.9,406.2M751.9,406.2l-6.6,2.5M754.0,408.3l-3.3,1.2M789.0,407.9L772.0,418.5M772.0,418.5l0.8,7.0M774.5,416.9l0.4,3.5M811.9,414.5L792.1,411.9M792.1,411.9l-3.7,5.9M795.1,412.3l-1.9,3.0M830.9,420.0L816.1,406.4M816.1,406.4l-6.5,2.7M818.3,408.5l-3.2,1.4M851.8,420.6L838.2,405.8M838.2,405.8l-6.7,2.1M840.3,408.0l-3.3,1.1M69.8,383.1L72.2,402.9M71.8,400.0l3.3,1.1M91.1,383.1L93.9,402.9M93.5,399.9l3.4,1.0M121.7,386.6L106.3,399.4M108.6,397.5l0.9,3.4M142.1,385.5L128.9,400.5M130.9,398.3l1.4,3.2M161.9,384.3L152.1,401.7M153.6,399.1l2.1,2.8M187.0,387.7L170.0,398.3M202.1,383.2L197.9,402.8M227.5,385.0L215.5,401.0M245.9,383.4L240.1,402.6M267.2,383.4L261.8,402.6M262.6,399.7l2.7,2.3M287.5,383.1L284.5,402.9M284.9,399.9l2.9,1.9M301.9,384.7L313.1,401.3M311.4,398.8l3.5,-0.6M330.7,383.2L327.3,402.8M327.8,399.9l2.9,2.0M345.0,384.6L356.0,401.4M354.3,398.9l3.5,-0.5M368.5,383.6L375.5,402.4M374.5,399.5l3.5,0.2M388.1,384.6L398.9,401.4M397.3,398.9l3.5,-0.5M418.7,383.7L411.3,402.3M412.4,399.5l2.4,2.5M440.9,384.0L432.1,402.0M433.4,399.3l2.2,2.7M465.7,386.6L450.3,399.4M452.6,397.5l0.9,3.4M485.7,400.8L473.3,385.2M473.3,385.2l-6.8,1.7M506.1,401.6L495.9,384.4M495.9,384.4l-7.0,0.7M527.5,401.7L517.5,384.3M517.5,384.3l-7.0,0.6M548.9,401.7L539.1,384.3M539.1,384.3l-7.0,0.6M569.5,402.2L561.5,383.8M561.5,383.8l-7.0,-0.2M585.9,402.9L588.1,383.1M588.1,383.1l-6.0,-3.6M604.0,401.9L613.0,384.1M613.0,384.1l-4.4,-5.5M625.0,401.7L635.0,384.3M635.0,384.3l-4.1,-5.7M646.5,401.7L656.5,384.3M656.5,384.3l-4.1,-5.7M667.6,401.4L678.4,384.6M678.4,384.6l-3.8,-5.9M687.4,400.0L701.6,386.0M701.6,386.0l-2.4,-6.6M699.5,388.1l-1.2,-3.3M708.4,399.5L723.6,386.5M723.6,386.5l-1.9,-6.8M721.3,388.5l-0.9,-3.4M729.9,399.5L745.1,386.5M745.1,386.5l-1.9,-6.7M742.8,388.4l-1.0,-3.4M753.3,401.2L764.7,384.8M764.7,384.8l-3.6,-6.0M763.0,387.2l-1.8,-3.0M783.3,402.6L777.7,383.4M777.7,383.4l-6.9,-1.0M805.4,402.4L798.6,383.6M798.6,383.6l-7.0,-0.6M827.0,402.4L820.0,383.6M820.0,383.6l-7.0,-0.6M848.6,402.3L841.4,383.7M841.4,383.7l-7.0,-0.5M72.8,363.0L69.2,382.6M69.7,379.7l2.9,2.0M94.1,362.9L90.9,382.7M91.4,379.7l2.9,1.9M114.9,362.8L113.1,382.8M113.4,379.8l3.0,1.7M132.6,363.2L138.4,382.4M137.5,379.5l3.5,0.5M155.8,362.9L158.2,382.7M157.8,379.7l3.3,1.1M185.0,365.2L172.0,380.4M206.6,365.3L193.4,380.3M220.8,362.8L222.2,382.8M246.6,363.5L239.4,382.1M260.9,363.5L268.1,382.1M267.0,379.3l3.5,0.2M291.5,364.4L280.5,381.2M282.2,378.7l1.9,3.0M308.3,362.8L306.7,382.8M307.0,379.8l3.1,1.7M322.4,365.3L335.6,380.3M333.6,378.0l3.4,-1.0M346.6,363.6L354.4,382.0M353.2,379.3l3.5,0.1M367.3,364.0L376.7,381.6M375.3,379.0l3.5,-0.2M398.5,364.1L388.5,381.5M390.0,378.9l2.0,2.9M411.9,363.3L418.1,382.3M417.2,379.5l3.5,0.4M434.0,363.1L439.0,382.5M438.3,379.6l3.5,0.6M456.0,363.0L460.0,382.6M459.4,379.7l3.4,0.8M485.6,380.7L473.4,364.9M473.4,364.9l-6.8,1.5M506.0,381.5L496.0,364.1M496.0,364.1l-7.0,0.6M527.5,381.5L517.5,364.1M517.5,364.1l-7.0,0.6M548.9,381.5L539.1,364.1M539.1,364.1l-7.0,0.6M569.3,382.0L561.7,363.6M561.7,363.6l-7.0,-0.3M584.2,382.4L589.8,363.2M589.8,363.2l-5.3,-4.6M603.5,381.5L613.5,364.1M613.5,364.1l-4.0,-5.7M625.0,381.5L635.0,364.1M635.0,364.1l-4.0,-5.7M646.4,381.4L656.6,364.2M656.6,364.2l-4.0,-5.8M667.0,380.8L679.0,364.8M679.0,364.8l-3.3,-6.2M687.0,379.4L702.0,366.2M702.0,366.2l-2.0,-6.7M699.8,368.2l-1.0,-3.4M708.3,379.2L723.7,366.4M723.7,366.4l-1.8,-6.8M721.4,368.3l-0.9,-3.4M729.9,379.3L745.1,366.3M745.1,366.3l-1.9,-6.8M742.8,368.3l-0.9,-3.4M752.8,380.7L765.2,364.9M765.2,364.9l-3.2,-6.3M763.3,367.3l-1.6,-3.1M783.0,382.5L778.0,363.1M778.0,363.1l-6.9,-1.3M805.4,382.2L798.6,363.4M798.6,363.4l-7.0,-0.6M826.9,382.2L820.1,363.4M820.1,363.4l-7.0,-0.6M848.3,382.2L841.7,363.4M841.7,363.4l-7.0,-0.7M79.8,347.8L62.2,357.4M64.9,355.9l0.2,3.5M92.3,342.6L92.7,362.6M92.6,359.6l3.2,1.4M123.3,349.0L104.7,356.2M107.5,355.1l-0.2,3.5M142.7,345.6L128.3,359.6M130.5,357.5l1.2,3.3M155.1,342.8L158.9,362.4M158.3,359.5l3.4,0.8M174.3,343.5L182.7,361.7M193.9,344.6L206.1,360.6M222.1,342.6L220.9,362.6M240.4,342.9L245.6,362.3M244.8,359.4l3.5,0.6M255.9,347.4L273.1,357.8M270.5,356.2l2.9,-2.0M281.2,343.8L290.8,361.4M289.4,358.7l3.5,-0.2M304.2,343.2L310.8,362.0M309.8,359.2l3.5,0.3M327.8,342.7L330.2,362.5M329.8,359.6l3.3,1.1M342.8,346.2L358.2,359.0M355.9,357.1l3.2,-1.5M367.8,343.5L376.2,361.7M375.0,358.9l3.5,-0.0M388.4,344.0L398.6,361.2M397.1,358.6l3.5,-0.4M409.2,344.5L420.8,360.7M419.1,358.3l3.4,-0.6M435.2,342.7L437.8,362.5M437.4,359.5l3.3,1.1M449.8,346.8L466.2,358.4M466.2,358.4l6.1,-3.5M471.5,346.7L487.5,358.5M487.5,358.5l6.2,-3.4M503.5,362.3L498.5,342.9M498.5,342.9l-6.9,-1.3M525.9,362.0L519.1,343.2M519.1,343.2l-7.0,-0.6M544.8,362.6L543.2,342.6M543.2,342.6l-6.6,-2.4M557.8,359.0L573.2,346.2M573.2,346.2l-1.8,-6.8M578.6,358.0L595.4,347.2M595.4,347.2l-1.0,-6.9M592.9,348.8l-0.5,-3.5M601.5,359.8L615.5,345.4M615.5,345.4l-2.5,-6.5M623.4,360.1L636.6,345.1M636.6,345.1l-2.8,-6.4M643.8,359.0L659.2,346.2M659.2,346.2l-1.8,-6.8M656.9,348.1l-0.9,-3.4M664.1,357.2L681.9,348.0M681.9,348.0l-0.3,-7.0M679.2,349.4l-0.1,-3.5M685.9,357.7L703.1,347.5M703.1,347.5l-0.8,-7.0M700.5,349.0l-0.4,-3.5M707.9,358.4L724.1,346.8M724.1,346.8l-1.3,-6.9M721.7,348.5l-0.7,-3.4M729.3,358.3L745.7,346.9M745.7,346.9l-1.2,-6.9M743.3,348.6l-0.6,-3.5M751.1,358.7L766.9,346.5M766.9,346.5l-1.5,-6.8M764.6,348.3l-0.8,-3.4M777.9,362.3L783.1,342.9M783.1,342.9l-5.4,-4.5M804.2,362.4L799.8,342.8M799.8,342.8l-6.9,-1.5M826.0,362.3L821.0,342.9M821.0,342.9l-6.9,-1.3M836.5,347.4L853.5,357.8M853.5,357.8l5.8,-3.9M71.9,322.4L70.1,342.4M70.4,339.4l3.0,1.7M94.6,322.6L90.4,342.2M91.0,339.2l2.8,2.1M119.4,324.0L108.6,340.8M110.2,338.3l1.9,3.0M136.4,322.4L134.6,342.4M134.9,339.4l3.0,1.7M149.0,326.5L165.0,338.3M162.6,336.6l3.1,-1.7M178.8,322.4L178.2,342.4M178.3,339.4l3.1,1.6M198.5,322.5L201.5,342.3M201.1,339.3l3.4,1.0M220.4,322.5L222.6,342.3M222.3,339.4l3.3,1.1M245.5,322.7L240.5,342.1M241.2,339.2l2.7,2.2M260.2,323.4L268.8,341.4M267.5,338.7l3.5,-0.0M283.3,322.8L288.7,342.0M287.9,339.1l3.5,0.5M304.7,322.8L310.3,342.0M309.4,339.1l3.5,0.5M319.4,329.7L338.6,335.1M335.7,334.3l2.3,-2.7M349.9,322.4L351.1,342.4M350.9,339.4l3.3,1.3M364.8,325.4L379.2,339.4M377.0,337.3l3.3,-1.3M391.9,322.5L395.1,342.3M395.1,342.3l6.8,1.9M406.9,326.5L423.1,338.3M423.1,338.3l6.1,-3.4M427.9,327.2L445.1,337.6M445.1,337.6l5.8,-3.9M449.4,327.3L466.6,337.5M466.6,337.5l5.8,-4.0M470.8,327.4L488.2,337.4M488.2,337.4l5.7,-4.0M491.6,329.0L510.4,335.8M510.4,335.8l4.9,-5.0M513.2,328.8L531.8,336.0M531.8,336.0l5.0,-4.9M529.0,334.9l2.5,-2.4M534.9,328.3L553.1,336.5M553.1,336.5l5.3,-4.6M550.4,335.3l2.6,-2.3M556.3,328.4L574.7,336.4M574.7,336.4l5.2,-4.7M571.9,335.2l2.6,-2.3M577.4,329.6L596.6,335.2M596.6,335.2l4.6,-5.3M593.7,334.4l2.3,-2.6M598.5,332.4L618.5,332.4M618.5,332.4l2.9,-6.4M615.5,332.4l1.5,-3.2M620.0,331.8L640.0,333.0M640.0,333.0l3.3,-6.2M637.0,332.8l3.3,-6.2M641.6,330.9L661.4,333.9M661.4,333.9l3.8,-5.9M658.4,333.4l3.8,-5.9M663.1,331.1L682.9,333.7M682.9,333.7l3.8,-5.9M679.9,333.3l3.8,-5.9M684.5,333.1L704.5,331.7M704.5,331.7l2.5,-6.6M701.5,331.9l2.5,-6.6M706.5,335.6L725.5,329.2M725.5,329.2l0.7,-7.0M722.6,330.1l0.4,-3.5M728.1,335.8L746.9,329.0M746.9,329.0l0.6,-7.0M744.1,330.0l0.3,-3.5M749.6,335.8L768.4,329.0M768.4,329.0l0.6,-7.0M765.6,330.0l0.3,-3.5M770.6,333.8L790.4,331.0M790.4,331.0l2.0,-6.7M787.4,331.4l1.0,-3.4M797.0,323.8L807.0,341.0M807.0,341.0l7.0,-0.7M820.0,323.0L827.0,341.8M827.0,341.8l7.0,0.5M841.5,323.0L848.5,341.8M848.5,341.8l7.0,0.5M74.8,303.0L67.2,321.4M68.3,318.7l2.4,2.6M97.6,303.6L87.4,320.8M89.0,318.2l2.0,2.9M113.2,302.2L114.8,322.2M114.5,319.2l3.3,1.2M129.7,304.1L141.3,320.3M139.6,317.9l3.4,-0.7M154.3,302.6L159.7,321.8M158.9,318.9l3.5,0.6M175.3,302.7L181.7,321.7M180.8,318.8l3.5,0.4M195.4,303.3L204.6,321.1M203.2,318.4l3.5,-0.2M220.5,302.3L222.5,322.1M222.2,319.2l3.3,1.1M243.7,302.2L242.3,322.2M242.5,319.2l3.1,1.7M258.7,304.0L270.3,320.4M268.5,317.9l3.4,-0.6M283.9,302.4L288.1,322.0M287.5,319.0l3.4,0.8M304.2,302.7L310.8,321.7M309.8,318.8l3.5,0.4M327.3,302.4L330.7,322.0M330.2,319.1l3.4,0.9M346.6,303.0L354.4,321.4M353.2,318.6l3.5,0.1M368.1,303.0L375.9,321.4M374.8,318.6l3.5,0.1M385.3,306.5L401.7,317.9M401.7,317.9l6.0,-3.6M406.4,307.1L423.6,317.3M423.6,317.3l5.8,-4.0M427.8,307.2L445.2,317.2M445.2,317.2l5.7,-4.0M449.3,307.2L466.7,317.2M466.7,317.2l5.7,-4.0M470.8,307.3L488.2,317.1M488.2,317.1l5.7,-4.1M491.9,308.0L510.1,316.4M510.1,316.4l5.4,-4.5M513.4,308.1L531.6,316.3M531.6,316.3l5.3,-4.6M528.9,315.1l2.7,-2.3M534.9,308.0L553.1,316.4M553.1,316.4l5.4,-4.5M550.3,315.2l2.7,-2.3M556.4,308.0L574.6,316.4M574.6,316.4l5.3,-4.5M571.9,315.1l2.7,-2.3M577.7,308.5L596.3,315.9M596.3,315.9l5.1,-4.8M593.5,314.8l2.6,-2.4M598.7,310.2L618.3,314.2M618.3,314.2l4.1,-5.7M615.4,313.6l2.1,-2.8M620.1,310.6L639.9,313.8M639.9,313.8l3.9,-5.8M636.9,313.3l3.9,-5.8M641.7,310.5L661.3,313.9M661.3,313.9l4.0,-5.8M658.4,313.4l4.0,-5.8M663.1,310.5L682.9,313.9M682.9,313.9l4.0,-5.8M679.9,313.4l4.0,-5.8M684.5,311.8L704.5,312.6M704.5,312.6l3.2,-6.2M701.5,312.5l3.2,-6.2M706.5,315.2L725.5,309.2M725.5,309.2l0.9,-7.0M722.7,310.1l0.4,-3.5M728.1,315.6L746.9,308.8M746.9,308.8l0.6,-7.0M744.1,309.8l0.3,-3.5M749.6,315.6L768.4,308.8M768.4,308.8l0.6,-7.0M765.6,309.8l0.3,-3.5M770.5,312.8L790.5,311.6M790.5,311.6l2.6,-6.5M787.5,311.8l1.3,-3.3M797.7,303.2L806.3,321.2M806.3,321.2l7.0,-0.1M820.1,302.8L826.9,321.6M826.9,321.6l7.0,0.6M841.6,302.8L848.4,321.6M848.4,321.6l7.0,0.6M68.8,282.2L73.2,301.8M72.5,298.8l3.4,0.7M93.1,282.0L91.9,302.0M92.0,299.0l3.1,1.7M114.3,282.0L113.7,302.0M113.8,299.0l3.1,1.6M128.7,284.7L142.3,299.3M140.3,297.1l3.3,-1.1M150.2,284.7L163.8,299.3M161.8,297.1l3.3,-1.1M172.1,284.3L184.9,299.7M183.0,297.4l3.4,-0.9M195.1,283.3L204.9,300.7M203.4,298.1l3.5,-0.3M215.2,284.3L227.8,299.7M225.9,297.4l3.4,-0.9M241.3,282.1L244.7,301.9M244.2,298.9l3.4,0.9M258.1,284.3L270.9,299.7M269.0,297.4l3.4,-0.9M281.3,283.2L290.7,300.8M289.3,298.2l3.5,-0.2M299.9,285.5L315.1,298.5M312.8,296.6l3.2,-1.4M319.0,292.0L339.0,292.0M336.0,292.0l1.5,-3.2M348.8,282.1L352.2,301.9M351.7,298.9l3.4,0.9M368.4,282.7L375.6,301.3M375.6,301.3l7.0,0.5M384.8,287.1L402.2,296.9M402.2,296.9l5.7,-4.1M406.3,287.1L423.7,296.9M423.7,296.9l5.7,-4.1M427.8,287.1L445.2,296.9M445.2,296.9l5.7,-4.1M449.3,287.1L466.7,296.9M466.7,296.9l5.7,-4.1M470.6,287.4L488.4,296.6M488.4,296.6l5.5,-4.3M491.9,287.9L510.1,296.1M510.1,296.1l5.3,-4.6M513.3,288.0L531.7,296.0M531.7,296.0l5.2,-4.7M528.9,294.8l2.6,-2.3M534.9,287.9L553.1,296.1M553.1,296.1l5.3,-4.6M550.4,294.9l2.6,-2.3M556.3,288.0L574.7,296.0M574.7,296.0l5.2,-4.7M571.9,294.8l2.6,-2.3M577.6,288.6L596.4,295.4M596.4,295.4l4.9,-5.0M593.6,294.4l2.5,-2.5M598.8,289.7L618.2,294.3M618.2,294.3l4.3,-5.5M615.3,293.6l2.2,-2.8M620.2,290.1L639.8,293.9M639.8,293.9l4.1,-5.7M636.9,293.3l4.1,-5.7M641.6,290.3L661.4,293.7M661.4,293.7l4.0,-5.8M658.4,293.2l4.0,-5.8M663.1,290.4L682.9,293.6M682.9,293.6l3.9,-5.8M679.9,293.1l3.9,-5.8M684.5,291.5L704.5,292.5M704.5,292.5l3.3,-6.2M701.5,292.4l1.6,-3.1M706.1,293.5L725.9,290.5M725.9,290.5l1.9,-6.7M722.9,290.9l1.0,-3.4M727.8,294.5L747.2,289.5M747.2,289.5l1.3,-6.9M744.3,290.3l0.6,-3.4M749.2,294.0L768.8,290.0M768.8,290.0l1.6,-6.8M765.9,290.6l0.8,-3.4M770.7,290.2L790.3,293.8M790.3,293.8l4.1,-5.7M787.4,293.3l2.0,-2.9M796.3,283.8L807.7,300.2M807.7,300.2l6.9,-1.2M819.5,282.8L827.5,301.2M827.5,301.2l7.0,0.2M841.1,282.8L848.9,301.2M848.9,301.2l7.0,0.2M66.8,262.7L75.2,280.9M73.9,278.2l3.5,0.0M84.5,265.8L100.5,277.8M98.1,276.0l3.1,-1.7M113.1,261.8L114.9,281.8M114.6,278.8l3.3,1.2M132.8,262.2L138.2,281.4M137.4,278.5l3.5,0.6M156.4,261.8L157.6,281.8M157.4,278.8l3.3,1.3M171.9,264.3L185.1,279.3M185.1,279.3l6.7,-2.0M190.5,268.8L209.5,274.8M209.5,274.8l4.7,-5.2M213.1,266.3L229.9,277.3M229.9,277.3l5.9,-3.7M234.4,266.6L251.6,277.0M251.6,277.0l5.8,-3.9M256.0,266.5L273.0,277.1M273.0,277.1l5.9,-3.8M277.7,266.3L294.3,277.3M294.3,277.3l6.0,-3.7M304.0,262.4L311.0,281.2M311.0,281.2l7.0,0.5M320.0,267.4L338.0,276.2M338.0,276.2l5.4,-4.4M341.9,266.8L359.1,276.8M359.1,276.8l5.8,-4.0M363.0,267.4L381.0,276.2M381.0,276.2l5.5,-4.4M384.5,267.5L402.5,276.1M402.5,276.1l5.4,-4.5M406.0,267.5L424.0,276.1M424.0,276.1l5.4,-4.5M427.5,267.4L445.5,276.2M445.5,276.2l5.4,-4.4M449.0,267.5L467.0,276.1M467.0,276.1l5.4,-4.5M470.4,267.7L488.6,275.9M488.6,275.9l5.3,-4.6M491.8,268.0L510.2,275.6M510.2,275.6l5.2,-4.8M513.2,268.0L531.8,275.6M531.8,275.6l5.1,-4.8M534.7,268.1L553.3,275.5M553.3,275.5l5.1,-4.8M556.2,268.2L574.8,275.4M574.8,275.4l5.0,-4.9M577.4,268.8L596.6,274.8M596.6,274.8l4.7,-5.2M593.7,273.9l2.3,-2.6M598.8,269.3L618.2,274.3M618.2,274.3l4.5,-5.4M615.3,273.6l2.2,-2.7M620.3,269.3L639.7,274.3M639.7,274.3l4.4,-5.4M636.8,273.6l2.2,-2.7M641.8,269.4L661.2,274.2M661.2,274.2l4.4,-5.5M658.3,273.5l2.2,-2.7M663.2,269.7L682.8,273.9M682.8,273.9l4.2,-5.6M679.8,273.3l2.1,-2.8M684.6,270.2L704.4,273.4M704.4,273.4l3.9,-5.8M701.4,272.9l2.0,-2.9M706.2,269.9L725.8,273.7M725.8,273.7l4.1,-5.7M727.8,269.5L747.2,274.1M747.2,274.1l4.3,-5.5M749.3,269.4L768.7,274.2M768.7,274.2l4.4,-5.5M771.4,267.7L789.6,275.9M789.6,275.9l5.3,-4.6M795.9,263.9L808.1,279.7M808.1,279.7l6.8,-1.5M818.4,263.2L828.6,280.4M828.6,280.4l7.0,-0.7M840.0,263.2L850.0,280.4M850.0,280.4l7.0,-0.7M63.5,245.0L78.5,258.2M76.3,256.2l3.2,-1.4M82.5,251.4L102.5,251.8M99.5,251.7l1.5,-3.2M108.8,243.1L119.2,260.1M117.7,257.6l3.5,-0.4M128.2,244.8L142.8,258.4M140.6,256.4l3.2,-1.3M148.9,245.8L165.1,257.4M165.1,257.4l6.1,-3.5M170.8,245.2L186.2,258.0M186.2,258.0l6.3,-3.0M191.5,246.3L208.5,256.9M208.5,256.9l5.9,-3.8M212.9,246.6L230.1,256.6M230.1,256.6l5.7,-4.0M234.3,246.6L251.7,256.6M251.7,256.6l5.7,-4.0M255.9,246.6L273.1,256.6M273.1,256.6l5.7,-4.0M277.5,246.4L294.5,256.8M294.5,256.8l5.8,-3.9M299.0,246.3L316.0,256.9M316.0,256.9l5.9,-3.9M320.3,246.7L337.7,256.5M337.7,256.5l5.7,-4.1M341.5,247.2L359.5,256.0M359.5,256.0l5.5,-4.4M362.9,247.4L381.1,255.8M381.1,255.8l5.4,-4.5M384.4,247.4L402.6,255.8M402.6,255.8l5.4,-4.5M405.9,247.4L424.1,255.8M424.1,255.8l5.4,-4.5M427.4,247.4L445.6,255.8M445.6,255.8l5.4,-4.5M448.9,247.4L467.1,255.8M467.1,255.8l5.3,-4.5M470.3,247.6L488.7,255.6M488.7,255.6l5.2,-4.7M491.7,247.8L510.3,255.4M510.3,255.4l5.1,-4.8M513.2,247.9L531.8,255.3M531.8,255.3l5.1,-4.8M534.7,247.9L553.3,255.3M553.3,255.3l5.1,-4.8M556.2,248.0L574.8,255.2M574.8,255.2l5.0,-4.9M577.4,248.8L596.6,254.4M596.6,254.4l4.6,-5.3M593.7,253.5l2.3,-2.7M598.8,249.1L618.2,254.1M618.2,254.1l4.5,-5.4M615.3,253.4l2.2,-2.7M620.3,249.0L639.7,254.2M639.7,254.2l4.5,-5.4M636.8,253.4l2.2,-2.7M641.8,249.0L661.2,254.2M661.2,254.2l4.5,-5.4M658.3,253.4l2.2,-2.7M663.3,249.2L682.7,254.0M682.7,254.0l4.4,-5.5M679.8,253.3l2.2,-2.7M684.7,249.4L704.3,253.8M704.3,253.8l4.3,-5.6M706.3,249.1L725.7,254.1M725.7,254.1l4.4,-5.4M727.8,249.0L747.2,254.2M747.2,254.2l4.5,-5.4M749.3,249.0L768.7,254.2M768.7,254.2l4.5,-5.4M771.4,247.5L789.6,255.7M789.6,255.7l5.3,-4.6M796.5,243.3L807.5,259.9M807.5,259.9l6.9,-1.1M818.5,242.9L828.5,260.3M828.5,260.3l7.0,-0.6M840.0,242.9L850.0,260.3M850.0,260.3l7.0,-0.6M62.2,226.7L79.8,236.1M77.2,234.7l2.8,-2.1M83.6,226.8L101.4,236.0M98.7,234.6l2.8,-2.2M105.7,225.8L122.3,237.0M119.8,235.3l3.0,-1.8M125.7,229.2L145.3,233.6M145.3,233.6l4.3,-5.6M149.5,224.8L164.5,238.0M164.5,238.0l6.4,-2.8M170.4,225.6L186.6,237.2M186.6,237.2l6.1,-3.5M191.4,226.2L208.6,236.6M208.6,236.6l5.8,-3.9M212.8,226.4L230.2,236.4M230.2,236.4l5.7,-4.0M234.3,226.4L251.7,236.4M251.7,236.4l5.7,-4.1M255.8,226.4L273.2,236.4M273.2,236.4l5.7,-4.1M277.3,226.5L294.7,236.3M294.7,236.3l5.7,-4.1M298.7,226.6L316.3,236.2M316.3,236.2l5.6,-4.2M320.0,227.0L338.0,235.8M338.0,235.8l5.5,-4.4M341.4,227.2L359.6,235.6M359.6,235.6l5.3,-4.5M362.9,227.2L381.1,235.6M381.1,235.6l5.3,-4.6M384.4,227.2L402.6,235.6M402.6,235.6l5.4,-4.5M405.9,227.2L424.1,235.6M424.1,235.6l5.4,-4.5M427.4,227.2L445.6,235.6M445.6,235.6l5.4,-4.5M448.9,227.2L467.1,235.6M467.1,235.6l5.4,-4.5M470.3,227.4L488.7,235.4M488.7,235.4l5.3,-4.6M491.7,227.7L510.3,235.1M510.3,235.1l5.1,-4.8M513.2,227.7L531.8,235.1M531.8,235.1l5.1,-4.8M534.7,227.7L553.3,235.1M553.3,235.1l5.1,-4.9M556.0,228.2L575.0,234.6M575.0,234.6l4.8,-5.1M577.2,229.3L596.8,233.5M596.8,233.5l4.2,-5.6M598.7,229.4L618.3,233.4M618.3,233.4l4.1,-5.7M615.4,232.8l2.1,-2.8M620.3,229.0L639.7,233.8M639.7,233.8l4.4,-5.5M636.8,233.1l2.2,-2.7M641.8,229.0L661.2,233.8M661.2,233.8l4.4,-5.5M658.3,233.1l2.2,-2.7M663.2,229.3L682.8,233.5M682.8,233.5l4.2,-5.6M679.8,232.9l2.1,-2.8M684.7,229.3L704.3,233.5M704.3,233.5l4.2,-5.6M706.3,229.0L725.7,233.8M725.7,233.8l4.4,-5.5M727.8,228.8L747.2,234.0M747.2,234.0l4.5,-5.4M749.4,228.7L768.6,234.1M768.6,234.1l4.6,-5.3M771.6,226.8L789.4,236.0M789.4,236.0l5.5,-4.3M795.9,223.5L808.1,239.3M808.1,239.3l6.8,-1.6M818.3,222.9L828.7,239.9M828.7,239.9l7.0,-0.8M839.8,222.8L850.2,240.0M850.2,240.0l7.0,-0.8M63.1,205.1L78.9,217.3M78.9,217.3l6.2,-3.3M76.6,215.5l3.1,-1.6M84.5,205.3L100.5,217.1M100.5,217.1l6.2,-3.4M98.1,215.4l6.2,-3.4M106.0,205.2L122.0,217.2M122.0,217.2l6.2,-3.4M119.6,215.4l6.2,-3.4M127.6,205.1L143.4,217.3M143.4,217.3l6.2,-3.3M141.1,215.5l3.1,-1.6M148.9,205.3L165.1,217.1M165.1,217.1l6.1,-3.4M162.6,215.4l3.1,-1.7M170.0,205.9L187.0,216.5M187.0,216.5l5.9,-3.9M184.4,214.9l2.9,-1.9M191.2,206.5L208.8,215.9M208.8,215.9l5.6,-4.3M206.2,214.5l2.8,-2.1M212.5,206.8L230.5,215.6M230.5,215.6l5.5,-4.4M227.8,214.3l5.5,-4.4M234.0,206.8L252.0,215.6M252.0,215.6l5.4,-4.4M249.3,214.3l5.4,-4.4M255.5,206.8L273.5,215.6M273.5,215.6l5.5,-4.4M270.8,214.3l5.5,-4.4M277.1,206.7L294.9,215.7M294.9,215.7l5.5,-4.4M292.2,214.4l2.7,-2.2M298.5,206.8L316.5,215.6M316.5,215.6l5.4,-4.4M313.8,214.3l2.7,-2.2M319.9,207.1L338.1,215.3M338.1,215.3l5.3,-4.6M335.4,214.1l2.6,-2.3M341.3,207.3L359.7,215.1M359.7,215.1l5.2,-4.7M362.8,207.3L381.2,215.1M381.2,215.1l5.2,-4.7M384.4,207.0L402.6,215.4M402.6,215.4l5.3,-4.6M405.9,207.1L424.1,215.3M424.1,215.3l5.3,-4.6M427.5,206.8L445.5,215.6M445.5,215.6l5.4,-4.4M449.0,206.8L467.0,215.6M467.0,215.6l5.5,-4.4M470.3,207.2L488.7,215.2M488.7,215.2l5.2,-4.7M491.6,207.9L510.4,214.5M510.4,214.5l4.9,-5.0M513.0,208.0L532.0,214.4M532.0,214.4l4.8,-5.1M534.5,208.2L553.5,214.2M553.5,214.2l4.7,-5.2M555.7,209.3L575.3,213.1M575.3,213.1l4.1,-5.7M577.0,211.5L597.0,210.9M597.0,210.9l2.7,-6.5M598.6,212.3L618.4,210.1M618.4,210.1l2.2,-6.7M620.0,212.0L640.0,210.4M640.0,210.4l2.4,-6.6M641.5,211.0L661.5,211.4M661.5,211.4l3.0,-6.3M663.1,210.1L682.9,212.3M682.9,212.3l3.6,-6.0M684.6,209.6L704.4,212.8M704.4,212.8l3.9,-5.8M706.2,209.4L725.8,213.0M725.8,213.0l4.0,-5.7M727.7,209.3L747.3,213.1M747.3,213.1l4.1,-5.7M749.4,208.5L768.6,213.9M768.6,213.9l4.6,-5.3M772.0,206.0L789.0,216.4M789.0,216.4l5.8,-3.9M795.5,203.6L808.5,218.8M808.5,218.8l6.7,-1.9M817.6,203.1L829.4,219.3M829.4,219.3l6.9,-1.4M839.2,203.1L850.8,219.3M850.8,219.3l6.9,-1.3M62.8,185.2L79.2,196.8M79.2,196.8l6.1,-3.5M76.7,195.0l6.1,-3.5M84.3,185.3L100.7,196.7M100.7,196.7l6.1,-3.5M98.2,195.0l6.1,-3.5M105.8,185.3L122.2,196.7M122.2,196.7l6.1,-3.5M119.7,195.0l6.1,-3.5M127.3,185.3L143.7,196.7M143.7,196.7l6.1,-3.5M141.2,195.0l6.1,-3.5M148.7,185.5L165.3,196.5M165.3,196.5l6.0,-3.7M162.8,194.9l6.0,-3.7M169.8,186.1L187.2,195.9M187.2,195.9l5.7,-4.1M184.6,194.4l5.7,-4.1M191.0,186.7L209.0,195.3M209.0,195.3l5.4,-4.5M206.3,194.0l5.4,-4.5M212.4,186.8L230.6,195.2M230.6,195.2l5.4,-4.5M227.8,194.0l5.4,-4.5M233.9,186.8L252.1,195.2M252.1,195.2l5.4,-4.5M249.3,194.0l5.4,-4.5M255.4,186.8L273.6,195.2M273.6,195.2l5.4,-4.5M270.8,194.0l5.4,-4.5M277.0,186.7L295.0,195.3M295.0,195.3l5.4,-4.5M292.3,194.0l5.4,-4.5M298.4,186.9L316.6,195.1M316.6,195.1l5.3,-4.6M313.9,193.9l2.7,-2.3M319.7,187.2L338.3,194.8M338.3,194.8l5.1,-4.8M335.5,193.6l2.6,-2.4M341.1,187.6L359.9,194.4M359.9,194.4l4.9,-5.0M357.1,193.4l2.5,-2.5M362.4,188.0L381.6,194.0M381.6,194.0l4.7,-5.2M378.7,193.1l2.3,-2.6M383.9,188.4L403.1,193.6M403.1,193.6l4.5,-5.4M400.3,192.8l2.3,-2.7M405.4,188.2L424.6,193.8M424.6,193.8l4.6,-5.3M421.7,193.0l2.3,-2.6M427.7,186.2L445.3,195.8M445.3,195.8l5.6,-4.2M454.5,181.6L461.5,200.4M460.5,197.6l3.5,0.3M469.5,190.6L489.5,191.4M489.5,191.4l3.2,-6.3M491.2,189.2L510.8,192.8M510.8,192.8l4.0,-5.7M512.7,189.2L532.3,192.8M532.3,192.8l4.1,-5.7M534.2,188.9L553.8,193.1M553.8,193.1l4.2,-5.6M555.5,190.4L575.5,191.6M575.5,191.6l3.3,-6.2M577.1,192.5L596.9,189.5M596.9,189.5l2.0,-6.7M598.7,192.7L618.3,189.3M618.3,189.3l1.8,-6.8M620.1,192.7L639.9,189.3M639.9,189.3l1.8,-6.8M641.6,192.3L661.4,189.7M661.4,189.7l2.1,-6.7M663.0,190.6L683.0,191.4M683.0,191.4l3.2,-6.2M684.6,189.4L704.4,192.6M704.4,192.6l3.9,-5.8M706.2,189.3L725.8,192.7M725.8,192.7l4.0,-5.8M727.7,189.3L747.3,192.7M747.3,192.7l4.0,-5.8M749.2,188.9L768.8,193.1M768.8,193.1l4.2,-5.6M772.1,185.6L788.9,196.4M788.9,196.4l5.9,-3.8M795.9,183.1L808.1,198.9M808.1,198.9l6.8,-1.5M817.8,182.8L829.2,199.2M829.2,199.2l6.9,-1.3M839.2,182.8L850.8,199.2M850.8,199.2l6.9,-1.3M62.8,165.1L79.2,176.5M79.2,176.5l6.0,-3.6M76.8,174.8l6.0,-3.6M84.3,165.1L100.7,176.5M100.7,176.5l6.1,-3.6M98.2,174.8l6.1,-3.6M105.8,165.1L122.2,176.5M122.2,176.5l6.0,-3.6M119.8,174.8l6.0,-3.6M127.2,165.2L143.8,176.4M143.8,176.4l6.0,-3.7M141.3,174.7l6.0,-3.7M148.5,165.6L165.5,176.0M165.5,176.0l5.8,-3.9M163.0,174.5l5.8,-3.9M169.6,166.2L187.4,175.4M187.4,175.4l5.5,-4.3M184.7,174.0l5.5,-4.3M191.0,166.5L209.0,175.1M209.0,175.1l5.4,-4.5M206.3,173.8l5.4,-4.5M212.4,166.6L230.6,175.0M230.6,175.0l5.4,-4.5M227.8,173.7l5.4,-4.5M233.9,166.6L252.1,175.0M252.1,175.0l5.4,-4.5M249.3,173.8l5.4,-4.5M255.4,166.6L273.6,175.0M273.6,175.0l5.3,-4.6M270.9,173.7l5.3,-4.6M276.9,166.7L295.1,174.9M295.1,174.9l5.3,-4.6M292.4,173.7l5.3,-4.6M298.3,166.9L316.7,174.7M316.7,174.7l5.2,-4.7M314.0,173.5l5.2,-4.7M319.6,167.3L338.4,174.3M338.4,174.3l5.0,-4.9M335.6,173.2l2.5,-2.5M341.0,167.7L360.0,173.9M360.0,173.9l4.8,-5.1M357.1,173.0l2.4,-2.6M362.4,167.9L381.6,173.7M381.6,173.7l4.6,-5.3M378.7,172.8l2.3,-2.6M383.9,168.1L403.1,173.5M403.1,173.5l4.6,-5.3M400.2,172.7l2.3,-2.7M405.6,167.3L424.4,174.3M424.4,174.3l5.0,-4.9M421.6,173.3l2.5,-2.5M433.0,161.4L440.0,180.2M438.9,177.4l3.5,0.3M456.8,160.9L459.2,180.7M458.8,177.7l3.3,1.1M477.2,161.1L481.8,180.5M481.1,177.6l3.4,0.7M494.9,162.8L507.1,178.8M507.1,178.8l6.8,-1.5M512.8,168.4L532.2,173.2M532.2,173.2l4.4,-5.5M534.2,169.0L553.8,172.6M553.8,172.6l4.0,-5.7M555.5,170.8L575.5,170.8M575.5,170.8l3.0,-6.4M577.1,172.3L596.9,169.3M596.9,169.3l2.0,-6.7M598.7,172.5L618.3,169.1M618.3,169.1l1.8,-6.8M620.2,172.6L639.8,169.0M639.8,169.0l1.8,-6.8M641.7,172.6L661.3,169.0M661.3,169.0l1.8,-6.8M663.0,171.3L683.0,170.3M683.0,170.3l2.6,-6.5M684.6,169.6L704.4,172.0M704.4,172.0l3.7,-6.0M706.1,169.2L725.9,172.4M725.9,172.4l3.9,-5.8M727.6,169.3L747.4,172.3M747.4,172.3l3.9,-5.8M749.1,169.5L768.9,172.1M768.9,172.1l3.7,-5.9M771.2,167.1L789.8,174.5M789.8,174.5l5.1,-4.8M795.2,163.5L808.8,178.1M808.8,178.1l6.7,-2.2M817.5,162.8L829.5,178.8M829.5,178.8l6.9,-1.4M839.0,162.8L851.0,178.8M851.0,178.8l6.9,-1.5M62.2,145.8L79.8,155.4M79.8,155.4l-0.5,7.0M77.1,154.0l-0.5,7.0M74.5,152.5l-0.2,3.5M83.7,145.9L101.3,155.3M101.3,155.3l-0.4,7.0M98.7,153.9l-0.4,7.0M96.0,152.5l-0.2,3.5M105.2,145.9L122.8,155.3M122.8,155.3l-0.4,7.0M120.2,153.9l-0.4,7.0M117.5,152.5l-0.2,3.5M126.7,145.8L144.3,155.4M144.3,155.4l-0.5,7.0M141.6,153.9l-0.5,7.0M139.0,152.5l-0.2,3.5M148.2,145.9L165.8,155.3M165.8,155.3l-0.4,7.0M163.2,153.9l-0.4,7.0M160.5,152.5l-0.2,3.5M169.4,146.3L187.6,154.9M187.6,154.9l-0.0,7.0M184.8,153.6l-0.0,7.0M182.1,152.3l-0.0,3.5M190.8,146.7L209.2,154.5M209.2,154.5l0.2,7.0M206.5,153.3l0.2,7.0M203.7,152.2l0.1,3.5M212.2,146.9L230.8,154.3M230.8,154.3l0.4,7.0M228.0,153.2l0.4,7.0M225.2,152.1l0.2,3.5M233.7,146.9L252.3,154.3M252.3,154.3l0.4,7.0M249.5,153.2l0.4,7.0M246.7,152.1l0.2,3.5M255.2,146.9L273.8,154.3M273.8,154.3l0.4,7.0M271.0,153.2l0.4,7.0M268.2,152.1l0.2,3.5M276.7,146.9L295.3,154.3M295.3,154.3l0.3,7.0M292.5,153.2l0.3,7.0M289.7,152.1l0.2,3.5M298.2,147.0L316.8,154.2M316.8,154.2l0.5,7.0M314.0,153.1l0.5,7.0M319.5,147.5L338.5,153.7M338.5,153.7l0.8,7.0M335.7,152.8l0.8,7.0M340.9,148.0L360.1,153.2M360.1,153.2l1.1,6.9M357.3,152.5l1.1,6.9M362.3,148.3L381.7,152.9M381.7,152.9l1.4,6.9M378.8,152.2l1.4,6.9M375.9,151.5l0.7,3.4M383.8,148.3L403.2,152.9M403.2,152.9l1.4,6.9M400.3,152.2l1.4,6.9M397.4,151.5l0.7,3.4M405.5,147.4L424.5,153.8M424.5,153.8l0.7,7.0M421.6,152.9l0.7,7.0M428.4,144.8L444.6,156.4M444.6,156.4l-1.3,6.9M448.3,148.0L467.7,153.2M464.8,152.4l0.6,3.5M475.7,141.4L483.3,159.8M482.2,157.1l-2.4,2.6M491.2,148.4L510.8,152.8M507.8,152.1l0.7,3.4M512.7,148.8L532.3,152.4M532.3,152.4l1.8,6.8M534.1,152.1L553.9,149.1M553.9,149.1l3.8,5.9M550.9,149.6l1.9,2.9M555.7,152.3L575.3,148.9M575.3,148.9l4.0,5.8M572.4,149.4l2.0,2.9M577.3,152.9L596.7,148.3M596.7,148.3l4.3,5.5M593.8,149.0l2.2,2.8M599.0,153.7L618.0,147.5M618.0,147.5l4.8,5.1M615.1,148.4l2.4,2.6M620.8,154.6L639.2,146.6M639.2,146.6l5.2,4.7M636.4,147.8l2.6,2.3M642.4,154.7L660.6,146.5M660.6,146.5l5.3,4.6M657.9,147.7l2.6,2.3M663.5,153.7L682.5,147.5M682.5,147.5l4.8,5.1M679.7,148.4l2.4,2.6M684.6,152.2L704.4,149.0M704.4,149.0l3.9,5.8M706.2,152.4L725.8,148.8M725.8,148.8l4.0,5.8M728.0,153.6L747.0,147.6M747.0,147.6l4.7,5.2M749.5,153.8L768.5,147.4M768.5,147.4l4.8,5.1M770.7,152.4L790.3,148.8M790.3,148.8l4.0,5.8M792.0,150.7L812.0,150.5M812.0,150.5l3.0,6.3M813.5,150.9L833.5,150.3M833.5,150.3l3.1,6.3M835.0,150.6L855.0,150.6M855.0,150.6l2.9,6.4M62.0,126.1L80.0,134.7M80.0,134.7l-0.1,7.0M77.3,133.4l-0.1,7.0M74.6,132.1l-0.1,7.0M83.4,126.2L101.6,134.6M101.6,134.6l-0.0,7.0M98.8,133.4l-0.0,7.0M96.1,132.1l-0.0,7.0M104.9,126.2L123.1,134.6M123.1,134.6l-0.0,7.0M120.3,133.4l-0.0,7.0M117.6,132.1l-0.0,7.0M126.5,126.1L144.5,134.7M144.5,134.7l-0.1,7.0M141.8,133.4l-0.1,7.0M139.1,132.1l-0.1,7.0M148.0,126.1L166.0,134.7M166.0,134.7l-0.1,7.0M163.3,133.4l-0.1,7.0M160.6,132.1l-0.1,7.0M169.3,126.5L187.7,134.3M187.7,134.3l0.2,7.0M184.9,133.1l0.2,7.0M182.2,132.0l0.2,7.0M190.6,126.9L209.4,133.9M209.4,133.9l0.5,7.0M206.5,132.9l0.5,7.0M203.7,131.8l0.5,7.0M212.1,127.0L230.9,133.8M230.9,133.8l0.6,7.0M228.1,132.8l0.6,7.0M225.3,131.8l0.6,7.0M233.6,127.0L252.4,133.8M252.4,133.8l0.6,7.0M249.6,132.8l0.6,7.0M246.8,131.8l0.6,7.0M255.1,127.0L273.9,133.8M273.9,133.8l0.6,7.0M271.1,132.8l0.6,7.0M268.3,131.8l0.6,7.0M276.6,126.9L295.4,133.9M295.4,133.9l0.5,7.0M292.6,132.8l0.5,7.0M289.8,131.8l0.5,7.0M298.1,127.1L316.9,133.7M316.9,133.7l0.7,7.0M314.1,132.7l0.7,7.0M311.3,131.7l0.3,3.5M319.4,127.7L338.6,133.1M338.6,133.1l1.1,6.9M335.7,132.3l1.1,6.9M332.9,131.5l0.6,3.5M340.7,128.4L360.3,132.4M360.3,132.4l1.6,6.8M357.4,131.8l1.6,6.8M354.4,131.2l0.8,3.4M362.1,128.9L381.9,131.9M381.9,131.9l1.9,6.7M378.9,131.5l1.9,6.7M376.0,131.0l1.9,6.7M383.6,129.0L403.4,131.8M403.4,131.8l2.0,6.7M400.4,131.4l2.0,6.7M397.5,131.0l2.0,6.7M405.1,128.9L424.9,131.9M424.9,131.9l2.0,6.7M421.9,131.4l2.0,6.7M419.0,131.0l2.0,6.7M426.9,127.7L446.1,133.1M446.1,133.1l1.1,6.9M443.2,132.3l1.1,6.9M440.4,131.5l0.6,3.5M449.3,125.5L466.7,135.3M466.7,135.3l-0.5,7.0M469.5,129.9L489.5,130.9M489.5,130.9l2.6,6.5M491.0,130.4L511.0,130.4M511.0,130.4l2.9,6.4M508.0,130.4l1.5,3.2M513.4,134.5L531.6,126.3M531.6,126.3l5.3,4.6M528.9,127.5l5.3,4.6M534.9,134.5L553.1,126.3M553.1,126.3l5.3,4.6M550.4,127.5l5.3,4.6M556.2,134.0L574.8,126.8M574.8,126.8l5.0,4.9M572.0,127.9l5.0,4.9M577.7,134.1L596.3,126.7M596.3,126.7l5.1,4.8M593.5,127.8l2.5,2.4M599.7,135.1L617.3,125.7M617.3,125.7l5.6,4.2M614.7,127.1l2.8,2.1M621.3,135.4L638.7,125.4M638.7,125.4l5.7,4.1M636.1,126.9l2.9,2.0M642.8,135.4L660.2,125.4M660.2,125.4l5.7,4.1M657.6,126.9l2.9,2.0M664.1,135.0L681.9,125.8M681.9,125.8l5.5,4.3M679.2,127.2l2.8,2.2M685.3,134.4L703.7,126.4M703.7,126.4l5.2,4.7M707.0,134.8L725.0,126.0M725.0,126.0l5.5,4.4M728.7,135.1L746.3,125.7M746.3,125.7l5.6,4.3M750.1,135.0L767.9,125.8M767.9,125.8l5.6,4.3M771.3,134.4L789.7,126.4M789.7,126.4l5.2,4.7M792.5,133.7L811.5,127.1M811.5,127.1l4.9,5.1M814.1,133.8L832.9,127.0M832.9,127.0l4.9,5.0M835.6,133.8L854.4,127.0M854.4,127.0l4.9,5.0M61.9,106.0L80.1,114.4M80.1,114.4l-0.0,7.0M77.3,113.2l-0.0,7.0M74.6,111.9l-0.0,7.0M83.4,106.0L101.6,114.4M101.6,114.4l-0.0,7.0M98.8,113.2l-0.0,7.0M96.1,111.9l-0.0,7.0M104.9,106.0L123.1,114.4M123.1,114.4l-0.0,7.0M120.3,113.2l-0.0,7.0M117.6,111.9l-0.0,7.0M126.4,106.0L144.6,114.4M144.6,114.4l-0.0,7.0M141.8,113.2l-0.0,7.0M139.1,111.9l-0.0,7.0M147.9,106.0L166.1,114.4M166.1,114.4l0.0,7.0M163.4,113.1l0.0,7.0M160.6,111.9l0.0,7.0M169.3,106.4L187.7,114.0M187.7,114.0l0.3,7.0M185.0,112.9l0.3,7.0M182.2,111.7l0.3,7.0M190.6,106.7L209.4,113.7M209.4,113.7l0.5,7.0M206.6,112.7l0.5,7.0M203.7,111.6l0.5,7.0M212.1,106.8L230.9,113.6M230.9,113.6l0.6,7.0M228.1,112.6l0.6,7.0M225.3,111.6l0.6,7.0M233.6,106.8L252.4,113.6M252.4,113.6l0.6,7.0M249.6,112.6l0.6,7.0M246.8,111.6l0.6,7.0M255.1,106.8L273.9,113.6M273.9,113.6l0.6,7.0M271.1,112.6l0.6,7.0M268.3,111.6l0.6,7.0M276.6,106.8L295.4,113.6M295.4,113.6l0.6,7.0M292.6,112.6l0.6,7.0M289.8,111.6l0.6,7.0M298.0,107.1L317.0,113.3M317.0,113.3l0.8,7.0M314.1,112.4l0.8,7.0M311.3,111.5l0.4,3.5M319.3,107.7L338.7,112.7M338.7,112.7l1.3,6.9M335.8,111.9l1.3,6.9M332.9,111.2l0.6,3.4M340.7,108.4L360.3,112.0M360.3,112.0l1.7,6.8M357.4,111.5l1.7,6.8M354.4,110.9l1.7,6.8M362.1,108.7L381.9,111.7M381.9,111.7l2.0,6.7M378.9,111.2l2.0,6.7M376.0,110.8l2.0,6.7M383.6,108.8L403.4,111.6M403.4,111.6l2.0,6.7M400.4,111.2l2.0,6.7M397.5,110.8l2.0,6.7M405.1,108.8L424.9,111.6M424.9,111.6l2.0,6.7M421.9,111.2l2.0,6.7M419.0,110.8l2.0,6.7M426.7,108.4L446.3,112.0M446.3,112.0l1.8,6.8M443.4,111.4l1.8,6.8M440.4,110.9l0.9,3.4M448.3,108.0L467.7,112.4M467.7,112.4l1.5,6.9M464.8,111.8l1.5,6.9M469.5,109.7L489.5,110.7M489.5,110.7l2.6,6.5M486.5,110.6l1.3,3.3M491.5,113.2L510.5,107.2M510.5,107.2l4.7,5.2M507.7,108.1l4.7,5.2M513.4,114.3L531.6,106.1M531.6,106.1l5.3,4.6M528.9,107.3l5.3,4.6M534.9,114.3L553.1,106.1M553.1,106.1l5.3,4.6M550.4,107.3l5.3,4.6M556.2,114.0L574.8,106.4M574.8,106.4l5.1,4.8M572.0,107.6l5.1,4.8M577.9,114.3L596.1,106.1M596.1,106.1l5.3,4.6M593.4,107.4l2.6,2.3M599.7,115.0L617.3,105.4M617.3,105.4l5.6,4.2M614.6,106.8l2.8,2.1M621.3,115.2L638.7,105.2M638.7,105.2l5.7,4.1M636.1,106.7l2.9,2.0M642.8,115.2L660.2,105.2M660.2,105.2l5.7,4.1M657.6,106.7l2.9,2.0M664.2,114.9L681.8,105.5M681.8,105.5l5.6,4.2M679.2,106.9l2.8,2.1M685.5,114.6L703.5,105.8M703.5,105.8l5.5,4.4M707.1,114.8L724.9,105.6M724.9,105.6l5.5,4.3M728.7,114.9L746.3,105.5M746.3,105.5l5.6,4.3M750.1,114.8L767.9,105.6M767.9,105.6l5.6,4.3M771.4,114.4L789.6,106.0M789.6,106.0l5.3,4.6M792.6,113.7L811.4,106.7M811.4,106.7l5.0,5.0M814.1,113.6L832.9,106.8M832.9,106.8l4.9,5.0M835.6,113.6L854.4,106.8M854.4,106.8l4.9,5.0M61.9,85.7L80.1,94.3M80.1,94.3l-0.0,7.0M77.3,93.0l-0.0,7.0M74.6,91.7l-0.0,7.0M83.4,85.8L101.6,94.2M101.6,94.2l-0.0,7.0M98.8,93.0l-0.0,7.0M96.1,91.7l-0.0,7.0M104.9,85.8L123.1,94.2M123.1,94.2l-0.0,7.0M120.3,93.0l-0.0,7.0M117.6,91.7l-0.0,7.0M126.4,85.8L144.6,94.2M144.6,94.2l-0.0,7.0M141.8,93.0l-0.0,7.0M139.1,91.7l-0.0,7.0M147.9,85.9L166.1,94.1M166.1,94.1l0.1,7.0M163.4,92.9l0.1,7.0M160.6,91.6l0.1,7.0M169.2,86.2L187.8,93.8M187.8,93.8l0.3,7.0M185.0,92.6l0.3,7.0M182.2,91.5l0.3,7.0M190.6,86.5L209.4,93.5M209.4,93.5l0.5,7.0M206.6,92.5l0.5,7.0M203.7,91.4l0.5,7.0M212.1,86.6L230.9,93.4M230.9,93.4l0.6,7.0M228.1,92.4l0.6,7.0M225.3,91.4l0.6,7.0M233.6,86.6L252.4,93.4M252.4,93.4l0.6,7.0M249.6,92.4l0.6,7.0M246.8,91.4l0.6,7.0M255.1,86.6L273.9,93.4M273.9,93.4l0.6,7.0M271.1,92.4l0.6,7.0M268.3,91.4l0.6,7.0M276.6,86.6L295.4,93.4M295.4,93.4l0.6,7.0M292.6,92.3l0.6,7.0M289.8,91.3l0.6,7.0M298.0,87.0L317.0,93.0M317.0,93.0l0.9,7.0M314.2,92.1l0.9,7.0M311.3,91.2l0.9,7.0M319.3,87.7L338.7,92.3M338.7,92.3l1.4,6.9M335.8,91.6l1.4,6.9M332.9,90.9l0.7,3.4M340.7,88.2L360.3,91.8M360.3,91.8l1.8,6.8M357.4,91.2l1.8,6.8M354.4,90.7l1.8,6.8M362.1,88.5L381.9,91.5M381.9,91.5l1.9,6.7M378.9,91.1l1.9,6.7M376.0,90.6l1.9,6.7M383.6,88.5L403.4,91.5M403.4,91.5l2.0,6.7M400.4,91.0l2.0,6.7M397.5,90.6l2.0,6.7M405.1,88.5L424.9,91.5M424.9,91.5l2.0,6.7M421.9,91.0l2.0,6.7M419.0,90.6l2.0,6.7M426.6,88.6L446.4,91.4M446.4,91.4l2.0,6.7M443.4,91.0l2.0,6.7M440.5,90.5l1.0,3.4M448.0,89.5L468.0,90.5M468.0,90.5l2.6,6.5M465.0,90.4l2.6,6.5M462.0,90.2l1.3,3.3M469.5,91.0L489.5,89.0M489.5,89.0l3.6,6.1M486.5,89.3l3.6,6.1M491.2,92.0L510.8,88.0M510.8,88.0l4.1,5.7M507.9,88.6l4.1,5.7M512.9,92.7L532.1,87.3M532.1,87.3l4.6,5.3M529.2,88.1l4.6,5.3M534.5,93.2L553.5,86.8M553.5,86.8l4.8,5.1M550.6,87.8l4.8,5.1M556.1,93.5L574.9,86.5M574.9,86.5l5.0,4.9M572.0,87.5l5.0,4.9M578.0,94.3L596.0,85.7M596.0,85.7l5.4,4.5M593.3,87.0l2.7,2.2M599.7,94.8L617.3,85.2M617.3,85.2l5.6,4.2M614.7,86.7l2.8,2.1M621.2,94.8L638.8,85.2M638.8,85.2l5.7,4.2M636.1,86.6l2.8,2.1M642.7,94.8L660.3,85.2M660.3,85.2l5.6,4.2M657.6,86.6l2.8,2.1M664.2,94.7L681.8,85.3M681.8,85.3l5.6,4.3M679.2,86.7l2.8,2.1M685.7,94.7L703.3,85.3M703.3,85.3l5.6,4.3M707.2,94.8L724.8,85.2M724.8,85.2l5.6,4.2M728.7,94.7L746.3,85.3M746.3,85.3l5.6,4.2M750.1,94.5L767.9,85.5M767.9,85.5l5.5,4.3M771.4,94.2L789.6,85.8M789.6,85.8l5.3,4.6M792.8,93.8L811.2,86.2M811.2,86.2l5.2,4.8M814.2,93.8L832.8,86.2M832.8,86.2l5.1,4.8M835.7,93.8L854.3,86.2M854.3,86.2l5.1,4.8M61.9,65.6L80.1,74.0M80.1,74.0l-0.0,7.0M77.3,72.8l-0.0,7.0M74.6,71.5l-0.0,7.0M83.4,65.6L101.6,74.0M101.6,74.0l-0.0,7.0M98.8,72.8l-0.0,7.0M96.1,71.5l-0.0,7.0M104.9,65.6L123.1,74.0M123.1,74.0l-0.0,7.0M120.3,72.8l-0.0,7.0M117.6,71.5l-0.0,7.0M126.4,65.6L144.6,74.0M144.6,74.0l-0.0,7.0M141.8,72.7l-0.0,7.0M139.1,71.5l-0.0,7.0M147.9,65.7L166.1,73.9M166.1,73.9l0.1,7.0M163.4,72.7l0.1,7.0M160.7,71.4l0.1,7.0M169.2,66.1L187.8,73.5M187.8,73.5l0.4,7.0M185.0,72.4l0.4,7.0M182.2,71.3l0.4,7.0M190.6,66.3L209.4,73.3M209.4,73.3l0.5,7.0M206.6,72.2l0.5,7.0M203.8,71.2l0.5,7.0M212.1,66.4L230.9,73.2M230.9,73.2l0.6,7.0M228.1,72.2l0.6,7.0M225.3,71.2l0.6,7.0M233.6,66.4L252.4,73.2M252.4,73.2l0.6,7.0M249.6,72.2l0.6,7.0M246.8,71.2l0.6,7.0M255.1,66.4L273.9,73.2M273.9,73.2l0.6,7.0M271.1,72.2l0.6,7.0M268.3,71.2l0.6,7.0M276.6,66.4L295.4,73.2M295.4,73.2l0.6,7.0M292.6,72.1l0.6,7.0M289.8,71.1l0.6,7.0M298.0,66.8L317.0,72.8M317.0,72.8l0.9,7.0M314.2,71.9l0.9,7.0M311.3,71.0l0.9,7.0M319.2,67.6L338.8,72.0M338.8,72.0l1.5,6.9M335.8,71.3l1.5,6.9M332.9,70.7l1.5,6.9M340.6,68.2L360.4,71.4M360.4,71.4l1.9,6.8M357.4,70.9l1.9,6.8M354.4,70.4l1.9,6.8M362.1,68.4L381.9,71.2M381.9,71.2l2.0,6.7M378.9,70.8l2.0,6.7M376.0,70.4l2.0,6.7M383.6,68.4L403.4,71.2M403.4,71.2l2.0,6.7M400.4,70.8l2.0,6.7M397.5,70.4l2.0,6.7M405.1,68.4L424.9,71.2M424.9,71.2l2.0,6.7M421.9,70.8l2.0,6.7M419.0,70.4l2.0,6.7M426.6,68.6L446.4,71.0M446.4,71.0l2.2,6.7M443.4,70.6l2.2,6.7M440.5,70.3l2.2,6.7M448.0,70.1L468.0,69.5M468.0,69.5l3.1,6.3M465.0,69.6l3.1,6.3M462.0,69.7l1.6,3.1M469.6,71.4L489.4,68.2M489.4,68.2l3.9,5.8M486.4,68.7l3.9,5.8M483.5,69.2l2.0,2.9M491.2,71.5L510.8,68.1M510.8,68.1l4.0,5.8M507.9,68.6l4.0,5.8M504.9,69.1l2.0,2.9M512.7,71.6L532.3,68.0M532.3,68.0l4.0,5.8M529.4,68.6l4.0,5.8M526.4,69.1l2.0,2.9M534.2,71.9L553.8,67.7M553.8,67.7l4.2,5.6M550.8,68.3l4.2,5.6M547.9,69.0l2.1,2.8M556.2,73.4L574.8,66.2M574.8,66.2l5.0,4.9M572.0,67.3l5.0,4.9M578.2,74.6L595.8,65.0M595.8,65.0l5.6,4.2M593.1,66.4l2.8,2.1M599.8,74.8L617.2,64.8M617.2,64.8l5.7,4.1M614.6,66.3l2.9,2.0M621.3,74.8L638.7,64.8M638.7,64.8l5.7,4.1M636.1,66.3l2.9,2.0M642.8,74.7L660.2,64.9M660.2,64.9l5.7,4.1M657.6,66.4l2.8,2.1M664.2,74.6L681.8,65.0M681.8,65.0l5.6,4.2M685.8,74.7L703.2,64.9M703.2,64.9l5.7,4.1M707.3,74.8L724.7,64.8M724.7,64.8l5.7,4.1M728.8,74.8L746.2,64.8M746.2,64.8l5.7,4.1M750.2,74.6L767.8,65.0M767.8,65.0l5.6,4.2M771.5,74.1L789.5,65.5M789.5,65.5l5.4,4.5M792.9,74.0L811.1,65.6M811.1,65.6l5.3,4.6M814.4,74.0L832.6,65.6M832.6,65.6l5.4,4.5M835.9,74.0L854.1,65.6M854.1,65.6l5.3,4.5M61.9,45.4L80.1,53.8M80.1,53.8l-0.0,7.0M77.3,52.6l-0.0,7.0M74.6,51.3l-0.0,7.0M83.4,45.4L101.6,53.8M101.6,53.8l-0.0,7.0M98.8,52.6l-0.0,7.0M96.1,51.3l-0.0,7.0M104.9,45.4L123.1,53.8M123.1,53.8l-0.0,7.0M120.3,52.6l-0.0,7.0M117.6,51.3l-0.0,7.0M126.4,45.4L144.6,53.8M144.6,53.8l-0.0,7.0M141.8,52.5l-0.0,7.0M139.1,51.3l-0.0,7.0M147.9,45.5L166.1,53.7M166.1,53.7l0.1,7.0M163.4,52.4l0.1,7.0M160.7,51.2l0.1,7.0M169.2,45.9L187.8,53.3M187.8,53.3l0.4,7.0M185.0,52.2l0.4,7.0M182.2,51.1l0.4,7.0M190.6,46.1L209.4,53.1M209.4,53.1l0.6,7.0M206.6,52.0l0.6,7.0M203.8,51.0l0.6,7.0M212.1,46.2L230.9,53.0M230.9,53.0l0.6,7.0M228.1,52.0l0.6,7.0M225.3,51.0l0.6,7.0M233.6,46.2L252.4,53.0M252.4,53.0l0.6,7.0M249.6,52.0l0.6,7.0M246.8,51.0l0.6,7.0M255.1,46.2L273.9,53.0M273.9,53.0l0.6,7.0M271.1,52.0l0.6,7.0M268.3,51.0l0.6,7.0M276.6,46.2L295.4,53.0M295.4,53.0l0.6,7.0M292.6,51.9l0.6,7.0M289.8,50.9l0.6,7.0M297.9,46.6L317.1,52.6M317.1,52.6l0.9,7.0M314.2,51.7l0.9,7.0M311.3,50.8l0.9,7.0M319.2,47.5L338.8,51.7M338.8,51.7l1.5,6.8M335.8,51.1l1.5,6.8M332.9,50.4l1.5,6.8M340.6,48.0L360.4,51.2M360.4,51.2l1.9,6.7M357.4,50.7l1.9,6.7M354.5,50.2l1.9,6.7M362.1,48.2L381.9,51.0M381.9,51.0l2.0,6.7M378.9,50.6l2.0,6.7M376.0,50.2l2.0,6.7M383.6,48.2L403.4,51.0M403.4,51.0l2.0,6.7M400.4,50.6l2.0,6.7M397.5,50.2l2.0,6.7M405.1,48.2L424.9,51.0M424.9,51.0l2.0,6.7M421.9,50.6l2.0,6.7M419.0,50.2l2.0,6.7M426.6,48.4L446.4,50.8M446.4,50.8l2.2,6.7M443.5,50.4l2.2,6.7M440.5,50.1l2.2,6.7M448.0,50.0L468.0,49.2M468.0,49.2l3.2,6.2M465.0,49.3l3.2,6.2M462.0,49.4l1.6,3.1M469.6,51.2L489.4,48.0M489.4,48.0l3.9,5.8M486.4,48.5l3.9,5.8M483.4,48.9l2.0,2.9M491.2,51.3L510.8,47.9M510.8,47.9l4.0,5.8M507.9,48.4l4.0,5.8M504.9,48.9l2.0,2.9M512.7,51.3L532.3,47.9M532.3,47.9l4.0,5.8M529.4,48.4l4.0,5.8M526.4,48.9l2.0,2.9M534.2,51.6L553.8,47.6M553.8,47.6l4.1,5.7M550.9,48.2l4.1,5.7M547.9,48.8l2.1,2.8M556.2,53.3L574.8,45.9M574.8,45.9l5.1,4.8M572.0,47.0l5.1,4.8M578.3,54.5L595.7,44.7M595.7,44.7l5.7,4.1M593.1,46.2l2.8,2.1M599.8,54.6L617.2,44.6M617.2,44.6l5.7,4.1M614.6,46.1l2.9,2.0M621.3,54.6L638.7,44.6M638.7,44.6l5.7,4.1M636.1,46.1l2.9,2.0M642.8,54.5L660.2,44.7M660.2,44.7l5.7,4.1M657.6,46.2l2.8,2.1M664.3,54.4L681.7,44.8M681.7,44.8l5.7,4.1M685.8,54.6L703.2,44.6M703.2,44.6l5.7,4.1M707.3,54.6L724.7,44.6M724.7,44.6l5.7,4.0M728.8,54.6L746.2,44.6M746.2,44.6l5.7,4.1M750.3,54.5L767.7,44.7M767.7,44.7l5.7,4.1M771.5,54.0L789.5,45.2M789.5,45.2l5.4,4.4M792.9,53.8L811.1,45.4M811.1,45.4l5.4,4.5M814.4,53.8L832.6,45.4M832.6,45.4l5.4,4.5M835.9,53.8L854.1,45.4M854.1,45.4l5.4,4.5"/>
</g>
<g clip-path="url(#mapclip)" stroke="#000" fill="none" stroke-linejoin="round" stroke-linecap="round">
<polyline stroke-width="2.8" points="253,58 259,71 268,82 279,91 294,100 309,110 322,118 338,112 353,109 368,109 376,113 388,110 400,106 415,102 429,97 444,97 453,102 459,110 468,119 479,116 488,113.6 495.6,118 502,122 505,130.6 504,141 502,150 501,158 497.7,167 494.5,173 497.7,182 504,190 508.5,196 519,206.7 527.7,215 532,223.7 533,232 537,240.8 540.5,251.4 542.6,264 545.8,275 548,283.4 545.8,294 540.5,300.5 535,307 532,315.4 528.8,326 526.6,336.7 525.3,349 527.4,360 533,371 540,384.7 549.4,398.8 556.5,415.3 558.8,434 563.5,453 570.6,464.7 577.6,473 584.7,485.9 591.8,500 596.5,511.8 593,521 596.5,530.6 603.5,536.5 617.6,537.6 634,533 650.6,530.6 671.8,530.6 685.9,525.9 704.7,514 723.5,497.6 737.8,480 747.8,465 751.5,452.4 755.2,442.5 767.7,435 777.7,430 779,427.6 781.4,417.6 780.2,405 775.2,392.7 772.7,382.7 777.7,372.7 787.7,362.7 800,355.2 817.6,345.3 832,334"/>
<polyline stroke-width="2.8" points="322,118 320.6,106 309,94 312,85 317.6,76.6 316,65 315,58"/>
<polyline stroke-width="2.8" points="279,91 285,79.5 282,68 279,58"/>
<polyline stroke-width="2.8" points="285,79.5 297,76.6 303,85 312,85"/>
<polyline stroke-width="2.8" points="259,71 268,74 279,71 282,68"/>
<polyline stroke-width="2.8" points="368,109 366,94 370.6,79.5 373.5,68 370.6,58"/>
<polyline stroke-width="2.8" points="411.8,100.5 407,91.3 407,79.5 405.9,58"/>
<polyline stroke-width="2.8" points="418.8,98 417.6,79.5 416.5,58"/>
<polyline stroke-width="2.8" points="430.6,96.5 430.6,67.8 437,58"/>
<polyline stroke-width="2.8" points="489,113.6 495.6,100.8 508.4,88 521,94.4 527.6,85.9 534,73 541,58"/>
<polyline stroke-width="2.8" points="549,58 563.8,73 566,83.7 557.4,96.5 559.5,111.4 566,126.4 574.5,135 573.4,145.6 563.8,142.4 542.5,141.3 521,141.3 504,141.3"/>
<polyline stroke-width="2.8" points="566,83.7 578.7,82.7 589.4,79.5 602,75 606.5,68.8 619,66.7 627.8,62.4 631,58"/>
<polyline stroke-width="2.8" points="522,141.3 521,154 502,155"/>
<polyline stroke-width="2.8" points="542.5,141.3 543.6,149.8 555.3,150.9 554.2,166.9 557.4,175.4 556.4,188.2 551,191.4 542.5,189.3 534,186 534,192.5 525.4,192.5 526.5,203 530.8,207.4 521,209.5"/>
<polyline stroke-width="2.8" points="574.5,135 578.7,126.4 598,126.4 600,117.8 608.6,110.4 619,113.6 630,117.8 638,118.4 650.5,113.4 665.4,110.9 678,109.6 695.4,109.6 702.9,115.9 715.3,117 725.3,120.9 730.3,125.8 742.8,124.6 750.2,128.3 760.2,125.8 767.7,120.9 772.7,115.9 787.7,117 802.6,120.9 812.6,125.8 825,128.3 832,127"/>
<polyline stroke-width="2.8" points="598,126.4 595.8,141.3 591.5,156.2 589.4,171 580.9,184 574.5,194.6 573.6,198 570,206.7 561.8,217.3 553,213 544.8,217.3 536,215 532,223.7"/>
<polyline stroke-width="2.8" points="527.7,215 532,209 530,202.4 521,205"/>
<polyline stroke-width="2.8" points="533,230 544.8,228 553,229 576.8,229 580,238.6 585.3,248.2 593.8,251.4 606.6,251.4 610.9,242 621.5,240.8 622.6,244 634.3,244 636.5,260 638.6,272.8 640.7,283.4 657.8,284.5 657.8,301.5 636.5,302.6 636.5,315.4 637,338 647,353"/>
<polyline stroke-width="2.8" points="657.8,284.5 672.9,285.4 692.9,288 700.4,295.4 710.3,306.6 720.3,307.9 720.3,301.6 712.8,300.4 709,293 706.6,280.4 709,268 712.8,255.5 727.8,253"/>
<polyline stroke-width="2.8" points="525.3,349 537.4,349 549.9,351.5 564.9,350.3 599.8,350.3 604.8,355.2 624.7,357.7 639.7,356.5 647.2,352.8 669.6,354"/>
<polyline stroke-width="4" points="669.6,354 679.6,357.7 694.6,347.8 707,341.5 712.8,340.3"/>
<polyline stroke-width="2.8" points="712.8,340.3 724,332.8 725.3,324 737.8,319 752.7,313"/>
<polyline stroke-width="2.8" points="624.7,358 626,397.7 615.6,399 615.3,469.4 610.6,474 601,476.5 589.4,474 583.5,468 577.6,473"/>
<polyline stroke-width="2.8" points="615.3,427 621,438.8 622.4,450.6 634,448 643.5,438.8 653,436.5 662.4,440 674,438.8 685.9,427 695.3,415.3 704.7,405.9 710.3,400"/>
<polyline stroke-width="2.8" points="674.6,357.7 682,372.7 692,382.7 699.5,392.7 710.3,400 720.3,402.6 735.3,405"/>
<polyline stroke-width="2.8" points="724,332.8 737.8,336.5 747.8,342.8 754,352.8 752.7,367.7 755.2,377.7 747.8,387.7 740.3,397.6 735.3,405 737.8,417.6 742.8,430 745.3,440 753,444"/>
<polyline stroke-width="2.8" points="745,440 737,441 732,448 734,456 741,458 747,454 748,446 745,440"/>
<polyline stroke-width="2.8" points="691.6,483.6 700.4,473.6 711.6,472.9 716.6,480 712.8,488.6 702.9,491 697.9,494.9 692.9,490 691.6,483.6"/>
<polyline stroke-width="2.8" points="652,58 658,71 670.4,78.4 680.4,88.4 687.9,95.9 696.6,103.4 695.4,109.6"/>
<polyline stroke-width="2.8" points="768,58 765.2,71 755.2,76 757.7,83.4 767.7,90.9 775.2,100.9 785.2,108.4 787.7,117"/>
<polyline stroke-width="4" points="787.7,117 789,128.3 795,139.6"/>
<polyline stroke-width="2.8" points="730.3,125.8 731.5,140.8 737.8,143.3 730.3,150.8 722.8,160.8 719,175.7 720.3,185.7"/>
<polyline stroke-width="4.5" points="737.8,143.3 730.3,150.8"/>
<polyline stroke-width="2.8" points="767.7,120.9 774,130.8 776.4,143.3 772.7,155.8 767.7,165.8 767.7,173.2"/>
<polyline stroke-width="2.8" points="742.8,165.8 752.7,163.3 765.2,162 767.7,173.2 765.2,183.2 760.2,190.7 752.7,195.7 745.3,192 742.8,180.7 742.8,165.8"/>
<polyline stroke-width="2.8" points="720.3,177 732.8,175.7 742.8,175.7"/>
<polyline stroke-width="2.8" points="720.3,185.7 712.8,193.2 715.3,198.2 730.3,195.7 731.5,185.7 720.3,185.7"/>
<polyline stroke-width="2.8" points="715.3,198.2 717.8,208.2 724,210.7 730.3,203.2 730.3,195.7"/>
<polyline stroke-width="5" points="716,199 715.3,212.4 719,229.8 726.5,244.8 733,256"/>
<polyline stroke-width="2.8" points="767.7,173.2 787,186 806,199 818,210 823,221"/>
<polyline stroke-width="2.8" points="832,208 822.6,220 817.6,230 824,237 825,255 832,268"/>
<polyline stroke-width="2.8" points="727.8,253 742.8,260.5 757.7,265.4 767.7,268 772.7,280.4 777.7,288 792.7,289 807.6,285.4 832,283"/>
<polyline stroke-width="4.5" points="757.7,268 762.7,278 767.7,293 772.7,307.9 775.2,317.8"/>
<polyline stroke-width="2.8" points="757.7,265.4 755.2,280.4 752.7,297.9 755.2,310.4 762.7,317.8 770.2,320.3 769,335.3 777.7,345.3 782.7,337.8 786.4,327.8 785.2,317.8 775.2,317.8"/>
</g>
<polygon fill="#000" points="383.5,70 390.6,66.6 395.3,71.3 401.2,71.3 404.7,74.8 404.7,94.8 401.2,98.4 397.6,94.8 390.6,90 391.8,85.4 395.3,80.7 391.8,76 385.9,73.6"/>
<g fill="none" stroke="#000" stroke-width="2"><circle cx="491.5" cy="126.5" r="3.2"/><circle cx="479" cy="147" r="1.3" fill="#000"/><circle cx="472" cy="162" r="2"/><circle cx="460.5" cy="180" r="0.8" fill="#000"/></g>
<polygon fill="none" stroke="#000" stroke-width="2" stroke-linejoin="miter" points="246.0,243.0 248.1,248.6 254.1,248.9 249.4,252.6 251.0,258.4 246.0,255.1 241.0,258.4 242.6,252.6 237.9,248.9 243.9,248.6"/>
<polygon fill="none" stroke="#000" stroke-width="2" stroke-linejoin="miter" points="339.0,329.0 341.1,334.6 347.1,334.9 342.4,338.6 344.0,344.4 339.0,341.1 334.0,344.4 335.6,338.6 330.9,334.9 336.9,334.6"/>
<g stroke="#000" stroke-linecap="square"><line x1="78" y1="58" x2="78" y2="595" stroke-width="4"/><line x1="78" y1="58" x2="830.5" y2="58" stroke-width="4"/><line x1="78" y1="595" x2="830.5" y2="595" stroke-width="4"/><line x1="830.6" y1="58" x2="830.6" y2="595" stroke-width="3"/></g>
<g stroke="#000"><line x1="78.0" y1="58" x2="78.0" y2="38" stroke-width="4"/><line x1="78.0" y1="595" x2="78.0" y2="615" stroke-width="4"/><line x1="185.5" y1="58" x2="185.5" y2="48" stroke-width="2"/><line x1="185.5" y1="595" x2="185.5" y2="605" stroke-width="2"/><line x1="293.0" y1="58" x2="293.0" y2="48" stroke-width="2"/><line x1="293.0" y1="595" x2="293.0" y2="605" stroke-width="2"/><line x1="400.5" y1="58" x2="400.5" y2="38" stroke-width="4"/><line x1="400.5" y1="595" x2="400.5" y2="615" stroke-width="4"/><line x1="508.0" y1="58" x2="508.0" y2="48" stroke-width="2"/><line x1="508.0" y1="595" x2="508.0" y2="605" stroke-width="2"/><line x1="615.5" y1="58" x2="615.5" y2="48" stroke-width="2"/><line x1="615.5" y1="595" x2="615.5" y2="605" stroke-width="2"/><line x1="723.0" y1="58" x2="723.0" y2="38" stroke-width="4"/><line x1="723.0" y1="595" x2="723.0" y2="615" stroke-width="4"/><line x1="830.5" y1="58" x2="830.5" y2="48" stroke-width="2"/><line x1="830.5" y1="595" x2="830.5" y2="605" stroke-width="2"/><line x1="78" y1="595.0" x2="58" y2="595.0" stroke-width="4"/><line x1="830.5" y1="595.0" x2="850.5" y2="595.0" stroke-width="4"/><line x1="78" y1="487.6" x2="68" y2="487.6" stroke-width="2"/><line x1="830.5" y1="487.6" x2="840.5" y2="487.6" stroke-width="2"/><line x1="78" y1="380.2" x2="58" y2="380.2" stroke-width="4"/><line x1="830.5" y1="380.2" x2="850.5" y2="380.2" stroke-width="4"/><line x1="78" y1="272.8" x2="68" y2="272.8" stroke-width="2"/><line x1="830.5" y1="272.8" x2="840.5" y2="272.8" stroke-width="2"/><line x1="78" y1="165.4" x2="58" y2="165.4" stroke-width="4"/><line x1="830.5" y1="165.4" x2="850.5" y2="165.4" stroke-width="4"/><line x1="78" y1="58.0" x2="68" y2="58.0" stroke-width="2"/><line x1="830.5" y1="58.0" x2="840.5" y2="58.0" stroke-width="2"/></g>
<rect x="124.00" y="668" width="55.08" height="47" fill="#ffffff" stroke="#000" stroke-width="2"/>
<rect x="179.08" y="668" width="55.08" height="47" fill="#a0a0ff" stroke="#000" stroke-width="2"/>
<rect x="234.17" y="668" width="55.08" height="47" fill="#4646ff" stroke="#000" stroke-width="2"/>
<rect x="289.25" y="668" width="55.08" height="47" fill="#0000f0" stroke="#000" stroke-width="2"/>
<rect x="344.33" y="668" width="55.08" height="47" fill="#004b97" stroke="#000" stroke-width="2"/>
<rect x="399.42" y="668" width="55.08" height="47" fill="#078e3e" stroke="#000" stroke-width="2"/>
<rect x="454.50" y="668" width="55.08" height="47" fill="#32be13" stroke="#000" stroke-width="2"/>
<rect x="509.58" y="668" width="55.08" height="47" fill="#87d70a" stroke="#000" stroke-width="2"/>
<rect x="564.67" y="668" width="55.08" height="47" fill="#e1f500" stroke="#000" stroke-width="2"/>
<rect x="619.75" y="668" width="55.08" height="47" fill="#ffbe00" stroke="#000" stroke-width="2"/>
<rect x="674.83" y="668" width="55.08" height="47" fill="#ff6400" stroke="#000" stroke-width="2"/>
<rect x="729.92" y="668" width="55.08" height="47" fill="#ff0a00" stroke="#000" stroke-width="2"/>
<rect x="124" y="668" width="661" height="47" fill="none" stroke="#000" stroke-width="3"/>
<g font-family="'Liberation Sans', sans-serif" fill="#000" stroke="#000" stroke-width="1.0" text-rendering="geometricPrecision"><text x="179.1" y="747.6" text-anchor="middle" font-size="24">0.1</text><text x="234.2" y="747.6" text-anchor="middle" font-size="24">1</text><text x="289.2" y="747.6" text-anchor="middle" font-size="24">2</text><text x="344.3" y="747.6" text-anchor="middle" font-size="24">5</text><text x="399.4" y="747.6" text-anchor="middle" font-size="24">10</text><text x="454.5" y="747.6" text-anchor="middle" font-size="24">20</text><text x="509.6" y="747.6" text-anchor="middle" font-size="24">40</text><text x="564.7" y="747.6" text-anchor="middle" font-size="24">60</text><text x="619.8" y="747.6" text-anchor="middle" font-size="24">100</text><text x="674.8" y="747.6" text-anchor="middle" font-size="24">150</text><text x="729.9" y="747.6" text-anchor="middle" font-size="24">200</text><text x="78" y="648.6" text-anchor="middle" font-size="25.5">30W</text><text x="400.5" y="648.6" text-anchor="middle" font-size="25.5">0</text><text x="723" y="648.6" text-anchor="middle" font-size="25.5">30E</text><text x="43" y="174.3" text-anchor="end" font-size="25.5">0</text><text x="44.5" y="389.3" text-anchor="end" font-size="25.5">20S</text><text x="44.5" y="604" text-anchor="end" font-size="25.5">40S</text><text x="74.5" y="24.7" font-size="32" textLength="252" lengthAdjust="spacingAndGlyphs">Dry PM2.5 (ug/kg)</text><text x="623" y="24.7" font-size="32" textLength="210" lengthAdjust="spacingAndGlyphs">2018-10-19_00</text><text x="830" y="54" text-anchor="end" font-size="23" letter-spacing="0.3">700 hPa</text></g>
</svg>
</body></html>
